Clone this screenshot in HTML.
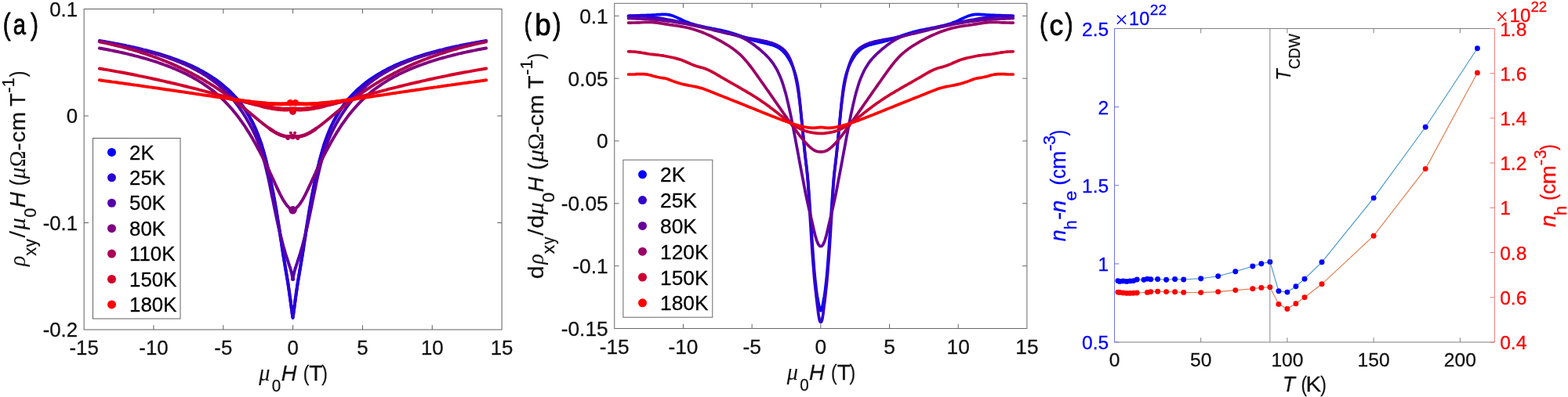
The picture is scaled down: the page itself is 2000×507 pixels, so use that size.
<!DOCTYPE html>
<html lang="en"><head><meta charset="utf-8"><title>Figure</title>
<style>
html,body{margin:0;padding:0;background:#fff;overflow:hidden}
svg{display:block}
text{font-family:"Liberation Sans",sans-serif;stroke-width:0.28px}
.m{font-family:"Liberation Serif",serif;font-style:italic;stroke-width:0.1px}
.r{font-family:"Liberation Serif",serif;stroke-width:0.1px}
.i{font-style:italic}
</style></head><body>
<svg width="2000" height="507" viewBox="0 0 2000 507">
<rect width="2000" height="507" fill="#fff"/>
<g fill="none" stroke-linecap="round" stroke-linejoin="round" stroke-width="3.95">
<path d="M126.9,52L129.7,52.4L132.5,52.9L135.2,53.4L138,53.9L140.7,54.4L143.4,54.9L146.1,55.4L148.8,55.9L151.5,56.4L154.1,57L156.8,57.5L159.4,58L162,58.6L164.6,59.1L167.2,59.7L169.8,60.3L172.3,60.8L174.9,61.4L177.4,62L179.9,62.6L182.4,63.3L184.9,63.9L187.4,64.5L189.8,65.1L192.3,65.8L194.7,66.5L197.1,67.1L199.5,67.8L201.9,68.5L204.2,69.2L206.6,69.9L208.9,70.7L211.3,71.4L213.6,72.1L215.9,72.9L218.2,73.7L220.4,74.5L222.7,75.3L224.9,76.1L227.1,76.9L229.3,77.8L231.5,78.6L233.7,79.5L235.9,80.4L238,81.3L240.1,82.2L242.3,83.1L244.4,84.1L246.4,85.1L248.5,86.1L250.6,87.1L252.6,88.1L254.6,89.2L256.7,90.2L258.6,91.3L260.6,92.4L262.6,93.6L264.5,94.7L266.5,95.9L268.4,97.1L270.3,98.3L272.2,99.6L274.1,100.9L275.9,102.2L277.8,103.5L279.6,104.9L281.4,106.3L283.2,107.7L285,109.2L286.7,110.7L288.5,112.2L290.2,113.7L291.9,115.3L293.6,116.9L295.3,118.6L297,120.3L298.6,122L300.3,123.8L301.9,125.6L303.5,127.5L305.1,129.4L306.6,131.4L308.2,133.4L309.7,135.5L311.3,137.7L312.8,139.9L314.3,142.2L315.7,144.5L317.2,147L318.6,149.5L320,152.1L321.5,154.8L322.8,157.6L324.2,160.5L325.6,163.6L326.9,166.7L328.2,170L329.5,173.4L330.8,176.9L332.1,180.6L333.4,184.4L334.6,188.3L335.8,192.5L337,196.7L338.2,201.2L339.4,205.8L340.5,210.5L341.7,215.3L342.8,220.2L343.9,225.2L344.9,230.3L346,235.5L347,240.7L348.1,246L349.1,251.4L350.1,256.8L351,262.2L352,267.7L352.9,273.2L353.8,278.7L354.7,284.2L355.6,289.7L356.5,295.1L357.3,300.5L358.1,305.8L359,311L359.7,316.1L360.5,321.1L361.2,325.8L362,330.4L362.7,334.7L363.4,338.8L364,342.8L364.7,346.6L365.3,350.3L365.9,353.8L366.5,357.3L367.1,360.8L367.6,364.2L368.1,367.6L368.6,371L369.1,374.3L369.5,377.5L370,380.6L370.4,383.6L370.8,386.4L371.1,389.1L371.5,391.6L371.8,394L372.1,396.1L372.4,398.1L372.6,399.8L372.8,401.4L373,402.7L373.2,403.8L373.3,404.7L373.4,405.4L373.5,405.8L373.5,406L373.5,405.8L373.6,405.4L373.7,404.7L373.8,403.8L374,402.7L374.2,401.4L374.4,399.8L374.6,398.1L374.9,396.1L375.2,394L375.5,391.6L375.9,389.1L376.2,386.4L376.6,383.6L377,380.6L377.5,377.5L377.9,374.3L378.4,371L378.9,367.6L379.4,364.2L379.9,360.8L380.5,357.3L381.1,353.8L381.7,350.3L382.3,346.6L383,342.8L383.6,338.8L384.3,334.7L385,330.4L385.8,325.8L386.5,321.1L387.3,316.1L388,311L388.9,305.8L389.7,300.5L390.5,295.1L391.4,289.7L392.3,284.2L393.2,278.7L394.1,273.2L395,267.7L396,262.2L396.9,256.8L397.9,251.4L398.9,246L400,240.7L401,235.5L402.1,230.3L403.1,225.2L404.2,220.2L405.3,215.3L406.5,210.5L407.6,205.8L408.8,201.2L410,196.7L411.2,192.5L412.4,188.3L413.6,184.4L414.9,180.6L416.2,176.9L417.5,173.4L418.8,170L420.1,166.7L421.4,163.6L422.8,160.5L424.2,157.6L425.5,154.8L427,152.1L428.4,149.5L429.8,147L431.3,144.5L432.7,142.2L434.2,139.9L435.7,137.7L437.3,135.5L438.8,133.4L440.4,131.4L441.9,129.4L443.5,127.5L445.1,125.6L446.7,123.8L448.4,122L450,120.3L451.7,118.6L453.4,116.9L455.1,115.3L456.8,113.7L458.5,112.2L460.3,110.7L462,109.2L463.8,107.7L465.6,106.3L467.4,104.9L469.2,103.5L471.1,102.2L472.9,100.9L474.8,99.6L476.7,98.3L478.6,97.1L480.5,95.9L482.5,94.7L484.4,93.6L486.4,92.4L488.4,91.3L490.3,90.2L492.4,89.2L494.4,88.1L496.4,87.1L498.5,86.1L500.6,85.1L502.6,84.1L504.7,83.1L506.9,82.2L509,81.3L511.1,80.4L513.3,79.5L515.5,78.6L517.7,77.8L519.9,76.9L522.1,76.1L524.3,75.3L526.6,74.5L528.8,73.7L531.1,72.9L533.4,72.1L535.7,71.4L538.1,70.7L540.4,69.9L542.8,69.2L545.1,68.5L547.5,67.8L549.9,67.1L552.3,66.5L554.7,65.8L557.2,65.1L559.6,64.5L562.1,63.9L564.6,63.3L567.1,62.6L569.6,62L572.1,61.4L574.7,60.8L577.2,60.3L579.8,59.7L582.4,59.1L585,58.6L587.6,58L590.2,57.5L592.9,57L595.5,56.4L598.2,55.9L600.9,55.4L603.6,54.9L606.3,54.4L609,53.9L611.8,53.4L614.5,52.9L617.3,52.4L620.1,52" stroke="#0000ff"/>
<path d="M126.9,52.6L129.7,53.1L132.5,53.5L135.2,54L138,54.5L140.7,55L143.4,55.5L146.1,56L148.8,56.5L151.5,57L154.1,57.6L156.8,58.1L159.4,58.7L162,59.2L164.6,59.8L167.2,60.3L169.8,60.9L172.3,61.5L174.9,62.1L177.4,62.7L179.9,63.3L182.4,63.9L184.9,64.5L187.4,65.2L189.8,65.8L192.3,66.5L194.7,67.1L197.1,67.8L199.5,68.5L201.9,69.2L204.2,69.9L206.6,70.6L208.9,71.4L211.3,72.1L213.6,72.9L215.9,73.6L218.2,74.4L220.4,75.2L222.7,76L224.9,76.9L227.1,77.7L229.3,78.5L231.5,79.4L233.7,80.3L235.9,81.2L238,82.1L240.1,83L242.3,84L244.4,84.9L246.4,85.9L248.5,86.9L250.6,87.9L252.6,89L254.6,90L256.7,91.1L258.6,92.2L260.6,93.3L262.6,94.5L264.5,95.6L266.5,96.8L268.4,98L270.3,99.3L272.2,100.5L274.1,101.8L275.9,103.1L277.8,104.5L279.6,105.8L281.4,107.2L283.2,108.6L285,110.1L286.7,111.6L288.5,113.1L290.2,114.7L291.9,116.3L293.6,117.9L295.3,119.5L297,121.2L298.6,123L300.3,124.7L301.9,126.6L303.5,128.4L305.1,130.3L306.6,132.3L308.2,134.3L309.7,136.4L311.3,138.5L312.8,140.7L314.3,142.9L315.7,145.2L317.2,147.6L318.6,150.1L320,152.7L321.5,155.3L322.8,158L324.2,160.9L325.6,163.8L326.9,166.8L328.2,170L329.5,173.3L330.8,176.7L332.1,180.2L333.4,183.9L334.6,187.8L335.8,191.8L337,195.9L338.2,200.3L339.4,204.7L340.5,209.4L341.7,214.1L342.8,218.9L343.9,223.8L344.9,228.8L346,233.8L347,239L348.1,244.1L349.1,249.4L350.1,254.7L351,260L352,265.4L352.9,270.9L353.8,276.4L354.7,281.9L355.6,287.4L356.5,292.9L357.3,298.3L358.1,303.7L359,308.9L359.7,314.1L360.5,319.1L361.2,324L362,328.6L362.7,333.1L363.4,337.3L364,341.3L364.7,345.1L365.3,348.8L365.9,352.4L366.5,356L367.1,359.5L367.6,363L368.1,366.5L368.6,369.9L369.1,373.3L369.5,376.6L370,379.8L370.4,382.9L370.8,385.9L371.1,388.7L371.5,391.3L371.8,393.7L372.1,395.9L372.4,397.8L372.6,399.6L372.8,401.1L373,402.4L373.2,403.5L373.3,404.4L373.4,405L373.5,405.4L373.5,405.6L373.5,405.4L373.6,405L373.7,404.4L373.8,403.5L374,402.4L374.2,401.1L374.4,399.6L374.6,397.8L374.9,395.9L375.2,393.7L375.5,391.3L375.9,388.7L376.2,385.9L376.6,382.9L377,379.8L377.5,376.6L377.9,373.3L378.4,369.9L378.9,366.5L379.4,363L379.9,359.5L380.5,356L381.1,352.4L381.7,348.8L382.3,345.1L383,341.3L383.6,337.3L384.3,333.1L385,328.6L385.8,324L386.5,319.1L387.3,314.1L388,308.9L388.9,303.7L389.7,298.3L390.5,292.9L391.4,287.4L392.3,281.9L393.2,276.4L394.1,270.9L395,265.4L396,260L396.9,254.7L397.9,249.4L398.9,244.1L400,239L401,233.8L402.1,228.8L403.1,223.8L404.2,218.9L405.3,214.1L406.5,209.4L407.6,204.7L408.8,200.3L410,195.9L411.2,191.8L412.4,187.8L413.6,183.9L414.9,180.2L416.2,176.7L417.5,173.3L418.8,170L420.1,166.8L421.4,163.8L422.8,160.9L424.2,158L425.5,155.3L427,152.7L428.4,150.1L429.8,147.6L431.3,145.2L432.7,142.9L434.2,140.7L435.7,138.5L437.3,136.4L438.8,134.3L440.4,132.3L441.9,130.3L443.5,128.4L445.1,126.6L446.7,124.7L448.4,123L450,121.2L451.7,119.5L453.4,117.9L455.1,116.3L456.8,114.7L458.5,113.1L460.3,111.6L462,110.1L463.8,108.6L465.6,107.2L467.4,105.8L469.2,104.5L471.1,103.1L472.9,101.8L474.8,100.5L476.7,99.3L478.6,98L480.5,96.8L482.5,95.6L484.4,94.5L486.4,93.3L488.4,92.2L490.3,91.1L492.4,90L494.4,89L496.4,87.9L498.5,86.9L500.6,85.9L502.6,84.9L504.7,84L506.9,83L509,82.1L511.1,81.2L513.3,80.3L515.5,79.4L517.7,78.5L519.9,77.7L522.1,76.9L524.3,76L526.6,75.2L528.8,74.4L531.1,73.6L533.4,72.9L535.7,72.1L538.1,71.4L540.4,70.6L542.8,69.9L545.1,69.2L547.5,68.5L549.9,67.8L552.3,67.1L554.7,66.5L557.2,65.8L559.6,65.2L562.1,64.5L564.6,63.9L567.1,63.3L569.6,62.7L572.1,62.1L574.7,61.5L577.2,60.9L579.8,60.3L582.4,59.8L585,59.2L587.6,58.7L590.2,58.1L592.9,57.6L595.5,57L598.2,56.5L600.9,56L603.6,55.5L606.3,55L609,54.5L611.8,54L614.5,53.5L617.3,53.1L620.1,52.6" stroke="#2a00d4"/>
<path d="M126.9,52.8L129.7,53.2L132.5,53.7L135.2,54.2L138,54.7L140.7,55.2L143.4,55.7L146.1,56.2L148.8,56.7L151.5,57.3L154.1,57.8L156.8,58.3L159.4,58.9L162,59.4L164.6,60L167.2,60.6L169.8,61.2L172.3,61.8L174.9,62.4L177.4,63L179.9,63.6L182.4,64.2L184.9,64.9L187.4,65.5L189.8,66.2L192.3,66.9L194.7,67.6L197.1,68.3L199.5,69L201.9,69.7L204.2,70.4L206.6,71.2L208.9,71.9L211.3,72.7L213.6,73.5L215.9,74.3L218.2,75.1L220.4,76L222.7,76.8L224.9,77.7L227.1,78.6L229.3,79.5L231.5,80.4L233.7,81.3L235.9,82.3L238,83.3L240.1,84.3L242.3,85.3L244.4,86.3L246.4,87.4L248.5,88.4L250.6,89.5L252.6,90.7L254.6,91.8L256.7,93L258.6,94.2L260.6,95.4L262.6,96.7L264.5,97.9L266.5,99.3L268.4,100.6L270.3,102L272.2,103.4L274.1,104.8L275.9,106.3L277.8,107.8L279.6,109.3L281.4,110.9L283.2,112.5L285,114.1L286.7,115.8L288.5,117.5L290.2,119.3L291.9,121.1L293.6,123L295.3,124.9L297,126.8L298.6,128.8L300.3,130.9L301.9,133L303.5,135.1L305.1,137.3L306.6,139.6L308.2,141.9L309.7,144.2L311.3,146.6L312.8,149L314.3,151.5L315.7,153.9L317.2,156.5L318.6,159L320,161.7L321.5,164.3L322.8,167.1L324.2,169.9L325.6,172.9L326.9,175.9L328.2,179.1L329.5,182.4L330.8,185.9L332.1,189.5L333.4,193.3L334.6,197.3L335.8,201.5L337,206L338.2,210.5L339.4,215.2L340.5,220.1L341.7,225.1L342.8,230.1L343.9,235.2L344.9,240.4L346,245.5L347,250.6L348.1,255.7L349.1,260.6L350.1,265.5L351,270.1L352,274.7L352.9,279L353.8,283.2L354.7,287.3L355.6,291.2L356.5,294.9L357.3,298.4L358.1,301.8L359,305.1L359.7,308.1L360.5,311.1L361.2,313.8L362,316.5L362.7,318.9L363.4,321.3L364,323.5L364.7,325.6L365.3,327.6L365.9,329.5L366.5,331.2L367.1,332.9L367.6,334.5L368.1,336.1L368.6,337.5L369.1,339L369.5,340.3L370,341.7L370.4,343L370.8,344.3L371.1,345.6L371.5,346.8L371.8,348.1L372.1,349.3L372.4,350.5L372.6,351.6L372.8,352.7L373,353.7L373.2,354.6L373.3,355.3L373.4,355.9L373.5,356.3L373.5,356.5L373.5,356.3L373.6,355.9L373.7,355.3L373.8,354.6L374,353.7L374.2,352.7L374.4,351.6L374.6,350.5L374.9,349.3L375.2,348.1L375.5,346.8L375.9,345.6L376.2,344.3L376.6,343L377,341.7L377.5,340.3L377.9,339L378.4,337.5L378.9,336.1L379.4,334.5L379.9,332.9L380.5,331.2L381.1,329.5L381.7,327.6L382.3,325.6L383,323.5L383.6,321.3L384.3,318.9L385,316.5L385.8,313.8L386.5,311.1L387.3,308.1L388,305.1L388.9,301.8L389.7,298.4L390.5,294.9L391.4,291.2L392.3,287.3L393.2,283.2L394.1,279L395,274.7L396,270.1L396.9,265.5L397.9,260.6L398.9,255.7L400,250.6L401,245.5L402.1,240.4L403.1,235.2L404.2,230.1L405.3,225.1L406.5,220.1L407.6,215.2L408.8,210.5L410,206L411.2,201.5L412.4,197.3L413.6,193.3L414.9,189.5L416.2,185.9L417.5,182.4L418.8,179.1L420.1,175.9L421.4,172.9L422.8,169.9L424.2,167.1L425.5,164.3L427,161.7L428.4,159L429.8,156.5L431.3,153.9L432.7,151.5L434.2,149L435.7,146.6L437.3,144.2L438.8,141.9L440.4,139.6L441.9,137.3L443.5,135.1L445.1,133L446.7,130.9L448.4,128.8L450,126.8L451.7,124.9L453.4,123L455.1,121.1L456.8,119.3L458.5,117.5L460.3,115.8L462,114.1L463.8,112.5L465.6,110.9L467.4,109.3L469.2,107.8L471.1,106.3L472.9,104.8L474.8,103.4L476.7,102L478.6,100.6L480.5,99.3L482.5,97.9L484.4,96.7L486.4,95.4L488.4,94.2L490.3,93L492.4,91.8L494.4,90.7L496.4,89.5L498.5,88.4L500.6,87.4L502.6,86.3L504.7,85.3L506.9,84.3L509,83.3L511.1,82.3L513.3,81.3L515.5,80.4L517.7,79.5L519.9,78.6L522.1,77.7L524.3,76.8L526.6,76L528.8,75.1L531.1,74.3L533.4,73.5L535.7,72.7L538.1,71.9L540.4,71.2L542.8,70.4L545.1,69.7L547.5,69L549.9,68.3L552.3,67.6L554.7,66.9L557.2,66.2L559.6,65.5L562.1,64.9L564.6,64.2L567.1,63.6L569.6,63L572.1,62.4L574.7,61.8L577.2,61.2L579.8,60.6L582.4,60L585,59.4L587.6,58.9L590.2,58.3L592.9,57.8L595.5,57.3L598.2,56.7L600.9,56.2L603.6,55.7L606.3,55.2L609,54.7L611.8,54.2L614.5,53.7L617.3,53.2L620.1,52.8" stroke="#5500aa"/>
<circle cx="373.5" cy="356.3" r="2.6" fill="#5500aa" stroke="none"/>
<path d="M126.9,61.5L129.7,62L132.5,62.5L135.2,63L138,63.5L140.7,64.1L143.4,64.6L146.1,65.2L148.8,65.8L151.5,66.3L154.1,66.9L156.8,67.5L159.4,68.1L162,68.7L164.6,69.4L167.2,70L169.8,70.6L172.3,71.3L174.9,71.9L177.4,72.6L179.9,73.3L182.4,74L184.9,74.7L187.4,75.4L189.8,76.2L192.3,76.9L194.7,77.7L197.1,78.4L199.5,79.2L201.9,80L204.2,80.8L206.6,81.6L208.9,82.5L211.3,83.3L213.6,84.2L215.9,85.1L218.2,86L220.4,86.9L222.7,87.8L224.9,88.8L227.1,89.7L229.3,90.7L231.5,91.7L233.7,92.7L235.9,93.8L238,94.8L240.1,95.9L242.3,97L244.4,98.1L246.4,99.3L248.5,100.5L250.6,101.6L252.6,102.9L254.6,104.1L256.7,105.4L258.6,106.6L260.6,108L262.6,109.3L264.5,110.7L266.5,112.1L268.4,113.5L270.3,114.9L272.2,116.4L274.1,117.9L275.9,119.5L277.8,121.1L279.6,122.7L281.4,124.3L283.2,126L285,127.7L286.7,129.5L288.5,131.3L290.2,133.1L291.9,135L293.6,136.9L295.3,138.8L297,140.7L298.6,142.7L300.3,144.8L301.9,146.8L303.5,148.9L305.1,151L306.6,153.2L308.2,155.3L309.7,157.5L311.3,159.7L312.8,162L314.3,164.3L315.7,166.6L317.2,168.9L318.6,171.2L320,173.6L321.5,176L322.8,178.4L324.2,180.8L325.6,183.2L326.9,185.6L328.2,188L329.5,190.5L330.8,192.9L332.1,195.3L333.4,197.7L334.6,200.2L335.8,202.6L337,205L338.2,207.4L339.4,209.8L340.5,212.2L341.7,214.6L342.8,216.9L343.9,219.2L344.9,221.6L346,223.8L347,226.1L348.1,228.3L349.1,230.5L350.1,232.7L351,234.8L352,236.9L352.9,238.9L353.8,240.8L354.7,242.7L355.6,244.6L356.5,246.4L357.3,248.1L358.1,249.7L359,251.2L359.7,252.7L360.5,254.1L361.2,255.3L362,256.5L362.7,257.7L363.4,258.7L364,259.7L364.7,260.6L365.3,261.4L365.9,262.2L366.5,262.9L367.1,263.5L367.6,264.1L368.1,264.6L368.6,265.1L369.1,265.6L369.5,266L370,266.5L370.4,266.8L370.8,267.2L371.1,267.6L371.5,267.9L371.8,268.2L372.1,268.6L372.4,268.9L372.6,269.2L372.8,269.5L373,269.7L373.2,270L373.3,270.2L373.4,270.3L373.5,270.5L373.6,270.3L373.7,270.2L373.8,270L374,269.7L374.2,269.5L374.4,269.2L374.6,268.9L374.9,268.6L375.2,268.2L375.5,267.9L375.9,267.6L376.2,267.2L376.6,266.8L377,266.5L377.5,266L377.9,265.6L378.4,265.1L378.9,264.6L379.4,264.1L379.9,263.5L380.5,262.9L381.1,262.2L381.7,261.4L382.3,260.6L383,259.7L383.6,258.7L384.3,257.7L385,256.5L385.8,255.3L386.5,254.1L387.3,252.7L388,251.2L388.9,249.7L389.7,248.1L390.5,246.4L391.4,244.6L392.3,242.7L393.2,240.8L394.1,238.9L395,236.9L396,234.8L396.9,232.7L397.9,230.5L398.9,228.3L400,226.1L401,223.8L402.1,221.6L403.1,219.2L404.2,216.9L405.3,214.6L406.5,212.2L407.6,209.8L408.8,207.4L410,205L411.2,202.6L412.4,200.2L413.6,197.7L414.9,195.3L416.2,192.9L417.5,190.5L418.8,188L420.1,185.6L421.4,183.2L422.8,180.8L424.2,178.4L425.5,176L427,173.6L428.4,171.2L429.8,168.9L431.3,166.6L432.7,164.3L434.2,162L435.7,159.7L437.3,157.5L438.8,155.3L440.4,153.2L441.9,151L443.5,148.9L445.1,146.8L446.7,144.8L448.4,142.7L450,140.7L451.7,138.8L453.4,136.9L455.1,135L456.8,133.1L458.5,131.3L460.3,129.5L462,127.7L463.8,126L465.6,124.3L467.4,122.7L469.2,121.1L471.1,119.5L472.9,117.9L474.8,116.4L476.7,114.9L478.6,113.5L480.5,112.1L482.5,110.7L484.4,109.3L486.4,108L488.4,106.6L490.3,105.4L492.4,104.1L494.4,102.9L496.4,101.6L498.5,100.5L500.6,99.3L502.6,98.1L504.7,97L506.9,95.9L509,94.8L511.1,93.8L513.3,92.7L515.5,91.7L517.7,90.7L519.9,89.7L522.1,88.8L524.3,87.8L526.6,86.9L528.8,86L531.1,85.1L533.4,84.2L535.7,83.3L538.1,82.5L540.4,81.6L542.8,80.8L545.1,80L547.5,79.2L549.9,78.4L552.3,77.7L554.7,76.9L557.2,76.2L559.6,75.4L562.1,74.7L564.6,74L567.1,73.3L569.6,72.6L572.1,71.9L574.7,71.3L577.2,70.6L579.8,70L582.4,69.4L585,68.7L587.6,68.1L590.2,67.5L592.9,66.9L595.5,66.3L598.2,65.8L600.9,65.2L603.6,64.6L606.3,64.1L609,63.5L611.8,63L614.5,62.5L617.3,62L620.1,61.5" stroke="#800080"/>
<circle cx="373.5" cy="268.3" r="5.2" fill="#800080" stroke="none"/>
<path d="M126.9,53.4L129.7,54L132.5,54.5L135.2,55.1L138,55.8L140.7,56.4L143.4,57L146.1,57.7L148.8,58.3L151.5,59L154.1,59.6L156.8,60.3L159.4,61L162,61.7L164.6,62.5L167.2,63.2L169.8,63.9L172.3,64.7L174.9,65.4L177.4,66.2L179.9,67L182.4,67.8L184.9,68.6L187.4,69.4L189.8,70.3L192.3,71.1L194.7,72L197.1,72.8L199.5,73.7L201.9,74.6L204.2,75.5L206.6,76.4L208.9,77.3L211.3,78.3L213.6,79.2L215.9,80.2L218.2,81.1L220.4,82.1L222.7,83.1L224.9,84.1L227.1,85.1L229.3,86.1L231.5,87.2L233.7,88.2L235.9,89.2L238,90.3L240.1,91.4L242.3,92.5L244.4,93.6L246.4,94.7L248.5,95.8L250.6,96.9L252.6,98L254.6,99.2L256.7,100.3L258.6,101.4L260.6,102.6L262.6,103.8L264.5,105L266.5,106.1L268.4,107.3L270.3,108.5L272.2,109.7L274.1,110.9L275.9,112.2L277.8,113.4L279.6,114.6L281.4,115.8L283.2,117L285,118.3L286.7,119.5L288.5,120.7L290.2,122L291.9,123.2L293.6,124.5L295.3,125.7L297,127L298.6,128.2L300.3,129.4L301.9,130.7L303.5,131.9L305.1,133.2L306.6,134.4L308.2,135.6L309.7,136.9L311.3,138.1L312.8,139.3L314.3,140.5L315.7,141.7L317.2,142.9L318.6,144.1L320,145.3L321.5,146.5L322.8,147.6L324.2,148.8L325.6,149.9L326.9,151L328.2,152.1L329.5,153.2L330.8,154.3L332.1,155.3L333.4,156.3L334.6,157.3L335.8,158.3L337,159.2L338.2,160.1L339.4,161L340.5,161.9L341.7,162.7L342.8,163.5L343.9,164.3L344.9,165.1L346,165.8L347,166.5L348.1,167.1L349.1,167.8L350.1,168.4L351,168.9L352,169.5L352.9,170L353.8,170.5L354.7,170.9L355.6,171.3L356.5,171.7L357.3,172.1L358.1,172.4L359,172.7L359.7,173L360.5,173.2L361.2,173.4L362,173.6L362.7,173.8L363.4,173.9L364,174L364.7,174.1L365.3,174.2L365.9,174.3L366.5,174.3L367.1,174.3L367.6,174.3L368.1,174.3L368.6,174.3L369.1,174.3L369.5,174.3L370,174.3L370.4,174.3L370.8,174.3L371.1,174.3L371.5,174.3L371.8,174.3L372.1,174.3L372.4,174.3L372.6,174.3L372.8,174.3L373,174.4L373.2,174.4L373.3,174.4L373.4,174.5L373.5,174.5L373.6,174.5L373.7,174.4L373.8,174.4L374,174.4L374.2,174.3L374.4,174.3L374.6,174.3L374.9,174.3L375.2,174.3L375.5,174.3L375.9,174.3L376.2,174.3L376.6,174.3L377,174.3L377.5,174.3L377.9,174.3L378.4,174.3L378.9,174.3L379.4,174.3L379.9,174.3L380.5,174.3L381.1,174.3L381.7,174.2L382.3,174.1L383,174L383.6,173.9L384.3,173.8L385,173.6L385.8,173.4L386.5,173.2L387.3,173L388,172.7L388.9,172.4L389.7,172.1L390.5,171.7L391.4,171.3L392.3,170.9L393.2,170.5L394.1,170L395,169.5L396,168.9L396.9,168.4L397.9,167.8L398.9,167.1L400,166.5L401,165.8L402.1,165.1L403.1,164.3L404.2,163.5L405.3,162.7L406.5,161.9L407.6,161L408.8,160.1L410,159.2L411.2,158.3L412.4,157.3L413.6,156.3L414.9,155.3L416.2,154.3L417.5,153.2L418.8,152.1L420.1,151L421.4,149.9L422.8,148.8L424.2,147.6L425.5,146.5L427,145.3L428.4,144.1L429.8,142.9L431.3,141.7L432.7,140.5L434.2,139.3L435.7,138.1L437.3,136.9L438.8,135.6L440.4,134.4L441.9,133.2L443.5,131.9L445.1,130.7L446.7,129.4L448.4,128.2L450,127L451.7,125.7L453.4,124.5L455.1,123.2L456.8,122L458.5,120.7L460.3,119.5L462,118.3L463.8,117L465.6,115.8L467.4,114.6L469.2,113.4L471.1,112.2L472.9,110.9L474.8,109.7L476.7,108.5L478.6,107.3L480.5,106.1L482.5,105L484.4,103.8L486.4,102.6L488.4,101.4L490.3,100.3L492.4,99.2L494.4,98L496.4,96.9L498.5,95.8L500.6,94.7L502.6,93.6L504.7,92.5L506.9,91.4L509,90.3L511.1,89.2L513.3,88.2L515.5,87.2L517.7,86.1L519.9,85.1L522.1,84.1L524.3,83.1L526.6,82.1L528.8,81.1L531.1,80.2L533.4,79.2L535.7,78.3L538.1,77.3L540.4,76.4L542.8,75.5L545.1,74.6L547.5,73.7L549.9,72.8L552.3,72L554.7,71.1L557.2,70.3L559.6,69.4L562.1,68.6L564.6,67.8L567.1,67L569.6,66.2L572.1,65.4L574.7,64.7L577.2,63.9L579.8,63.2L582.4,62.5L585,61.7L587.6,61L590.2,60.3L592.9,59.6L595.5,59L598.2,58.3L600.9,57.7L603.6,57L606.3,56.4L609,55.8L611.8,55.1L614.5,54.5L617.3,54L620.1,53.4" stroke="#aa0055"/>
<path d="M343.9,164.3L344.9,165.1L346,165.8L347,166.5L348.1,167.1L349.1,167.8L350.1,168.4L351,168.9L352,169.5L352.9,170L353.8,170.5L354.7,170.9L355.6,171.3L356.5,171.7L357.3,172.1L358.1,172.4L359,172.7L359.7,173L360.5,173.2L361.2,173.4L362,173.6L362.7,173.8L363.4,173.9L364,174L364.7,174.1L365.3,174.2L365.9,174.3L366.5,174.3L367.1,174.3L367.6,174.3L368.1,174.3L368.6,174.3L369.1,174.3L369.5,174.3L370,174.3L370.4,174.3L370.8,174.3L371.1,174.3L371.5,174.3L371.8,174.3L372.1,174.3L372.4,174.3L372.6,174.3L372.8,174.3L373,174.4L373.2,174.4L373.3,174.4L373.4,174.5L373.5,174.5L373.6,174.5L373.7,174.4L373.8,174.4L374,174.4L374.2,174.3L374.4,174.3L374.6,174.3L374.9,174.3L375.2,174.3L375.5,174.3L375.9,174.3L376.2,174.3L376.6,174.3L377,174.3L377.5,174.3L377.9,174.3L378.4,174.3L378.9,174.3L379.4,174.3L379.9,174.3L380.5,174.3L381.1,174.3L381.7,174.2L382.3,174.1L383,174L383.6,173.9L384.3,173.8L385,173.6L385.8,173.4L386.5,173.2L387.3,173L388,172.7L388.9,172.4L389.7,172.1L390.5,171.7L391.4,171.3L392.3,170.9L393.2,170.5L394.1,170L395,169.5L396,168.9L396.9,168.4L397.9,167.8L398.9,167.1L400,166.5L401,165.8L402.1,165.1L403.1,164.3" stroke="#aa0055" stroke-width="4.6"/>
<circle cx="370.9" cy="169.8" r="2.1" fill="#aa0055" stroke="none"/>
<circle cx="376.1" cy="169.8" r="2.1" fill="#aa0055" stroke="none"/>
<circle cx="367.2" cy="176.3" r="2.6" fill="#aa0055" stroke="none"/>
<circle cx="379.8" cy="176.3" r="2.6" fill="#aa0055" stroke="none"/>
<circle cx="373.5" cy="174.5" r="3.6" fill="#aa0055" stroke="none"/>
<path d="M126.9,87.5L129.7,88L132.5,88.5L135.2,88.9L138,89.4L140.7,89.9L143.4,90.4L146.1,90.9L148.8,91.4L151.5,91.8L154.1,92.3L156.8,92.8L159.4,93.3L162,93.8L164.6,94.3L167.2,94.8L169.8,95.3L172.3,95.8L174.9,96.3L177.4,96.9L179.9,97.4L182.4,97.9L184.9,98.4L187.4,98.9L189.8,99.4L192.3,99.9L194.7,100.5L197.1,101L199.5,101.5L201.9,102L204.2,102.6L206.6,103.1L208.9,103.6L211.3,104.2L213.6,104.7L215.9,105.2L218.2,105.7L220.4,106.3L222.7,106.8L224.9,107.3L227.1,107.9L229.3,108.4L231.5,108.9L233.7,109.5L235.9,110L238,110.5L240.1,111.1L242.3,111.6L244.4,112.1L246.4,112.7L248.5,113.2L250.6,113.7L252.6,114.2L254.6,114.8L256.7,115.3L258.6,115.8L260.6,116.3L262.6,116.8L264.5,117.3L266.5,117.9L268.4,118.4L270.3,118.9L272.2,119.4L274.1,119.9L275.9,120.3L277.8,120.8L279.6,121.3L281.4,121.8L283.2,122.3L285,122.7L286.7,123.2L288.5,123.7L290.2,124.1L291.9,124.6L293.6,125L295.3,125.5L297,125.9L298.6,126.4L300.3,126.8L301.9,127.2L303.5,127.6L305.1,128.1L306.6,128.5L308.2,128.9L309.7,129.3L311.3,129.7L312.8,130.1L314.3,130.4L315.7,130.8L317.2,131.2L318.6,131.6L320,131.9L321.5,132.3L322.8,132.6L324.2,133L325.6,133.3L326.9,133.6L328.2,133.9L329.5,134.2L330.8,134.5L332.1,134.8L333.4,135.1L334.6,135.4L335.8,135.7L337,135.9L338.2,136.2L339.4,136.4L340.5,136.7L341.7,136.9L342.8,137.1L343.9,137.3L344.9,137.5L346,137.7L347,137.9L348.1,138.1L349.1,138.2L350.1,138.4L351,138.5L352,138.7L352.9,138.8L353.8,138.9L354.7,139L355.6,139.1L356.5,139.2L357.3,139.3L358.1,139.4L359,139.4L359.7,139.5L360.5,139.5L361.2,139.6L362,139.6L362.7,139.6L363.4,139.6L364,139.6L364.7,139.6L365.3,139.6L365.9,139.6L366.5,139.6L367.1,139.6L367.6,139.5L368.1,139.5L368.6,139.5L369.1,139.4L369.5,139.4L370,139.4L370.4,139.3L370.8,139.3L371.1,139.3L371.5,139.3L371.8,139.2L372.1,139.2L372.4,139.2L372.6,139.2L372.8,139.2L373,139.2L373.2,139.2L373.3,139.2L373.4,139.2L373.5,139.2L373.6,139.2L373.7,139.2L373.8,139.2L374,139.2L374.2,139.2L374.4,139.2L374.6,139.2L374.9,139.2L375.2,139.2L375.5,139.3L375.9,139.3L376.2,139.3L376.6,139.3L377,139.4L377.5,139.4L377.9,139.4L378.4,139.5L378.9,139.5L379.4,139.5L379.9,139.6L380.5,139.6L381.1,139.6L381.7,139.6L382.3,139.6L383,139.6L383.6,139.6L384.3,139.6L385,139.6L385.8,139.6L386.5,139.5L387.3,139.5L388,139.4L388.9,139.4L389.7,139.3L390.5,139.2L391.4,139.1L392.3,139L393.2,138.9L394.1,138.8L395,138.7L396,138.5L396.9,138.4L397.9,138.2L398.9,138.1L400,137.9L401,137.7L402.1,137.5L403.1,137.3L404.2,137.1L405.3,136.9L406.5,136.7L407.6,136.4L408.8,136.2L410,135.9L411.2,135.7L412.4,135.4L413.6,135.1L414.9,134.8L416.2,134.5L417.5,134.2L418.8,133.9L420.1,133.6L421.4,133.3L422.8,133L424.2,132.6L425.5,132.3L427,131.9L428.4,131.6L429.8,131.2L431.3,130.8L432.7,130.4L434.2,130.1L435.7,129.7L437.3,129.3L438.8,128.9L440.4,128.5L441.9,128.1L443.5,127.6L445.1,127.2L446.7,126.8L448.4,126.4L450,125.9L451.7,125.5L453.4,125L455.1,124.6L456.8,124.1L458.5,123.7L460.3,123.2L462,122.7L463.8,122.3L465.6,121.8L467.4,121.3L469.2,120.8L471.1,120.3L472.9,119.9L474.8,119.4L476.7,118.9L478.6,118.4L480.5,117.9L482.5,117.3L484.4,116.8L486.4,116.3L488.4,115.8L490.3,115.3L492.4,114.8L494.4,114.2L496.4,113.7L498.5,113.2L500.6,112.7L502.6,112.1L504.7,111.6L506.9,111.1L509,110.5L511.1,110L513.3,109.5L515.5,108.9L517.7,108.4L519.9,107.9L522.1,107.3L524.3,106.8L526.6,106.3L528.8,105.7L531.1,105.2L533.4,104.7L535.7,104.2L538.1,103.6L540.4,103.1L542.8,102.6L545.1,102L547.5,101.5L549.9,101L552.3,100.5L554.7,99.9L557.2,99.4L559.6,98.9L562.1,98.4L564.6,97.9L567.1,97.4L569.6,96.9L572.1,96.3L574.7,95.8L577.2,95.3L579.8,94.8L582.4,94.3L585,93.8L587.6,93.3L590.2,92.8L592.9,92.3L595.5,91.8L598.2,91.4L600.9,90.9L603.6,90.4L606.3,89.9L609,89.4L611.8,88.9L614.5,88.5L617.3,88L620.1,87.5" stroke="#d4002a"/>
<path d="M305.1,128.1L306.6,128.5L308.2,128.9L309.7,129.3L311.3,129.7L312.8,130.1L314.3,130.4L315.7,130.8L317.2,131.2L318.6,131.6L320,131.9L321.5,132.3L322.8,132.6L324.2,133L325.6,133.3L326.9,133.6L328.2,133.9L329.5,134.2L330.8,134.5L332.1,134.8L333.4,135.1L334.6,135.4L335.8,135.7L337,135.9L338.2,136.2L339.4,136.4L340.5,136.7L341.7,136.9L342.8,137.1L343.9,137.3L344.9,137.5L346,137.7L347,137.9L348.1,138.1L349.1,138.2L350.1,138.4L351,138.5L352,138.7L352.9,138.8L353.8,138.9L354.7,139L355.6,139.1L356.5,139.2L357.3,139.3L358.1,139.4L359,139.4L359.7,139.5L360.5,139.5L361.2,139.6L362,139.6L362.7,139.6L363.4,139.6L364,139.6L364.7,139.6L365.3,139.6L365.9,139.6L366.5,139.6L367.1,139.6L367.6,139.5L368.1,139.5L368.6,139.5L369.1,139.4L369.5,139.4L370,139.4L370.4,139.3L370.8,139.3L371.1,139.3L371.5,139.3L371.8,139.2L372.1,139.2L372.4,139.2L372.6,139.2L372.8,139.2L373,139.2L373.2,139.2L373.3,139.2L373.4,139.2L373.5,139.2L373.6,139.2L373.7,139.2L373.8,139.2L374,139.2L374.2,139.2L374.4,139.2L374.6,139.2L374.9,139.2L375.2,139.2L375.5,139.3L375.9,139.3L376.2,139.3L376.6,139.3L377,139.4L377.5,139.4L377.9,139.4L378.4,139.5L378.9,139.5L379.4,139.5L379.9,139.6L380.5,139.6L381.1,139.6L381.7,139.6L382.3,139.6L383,139.6L383.6,139.6L384.3,139.6L385,139.6L385.8,139.6L386.5,139.5L387.3,139.5L388,139.4L388.9,139.4L389.7,139.3L390.5,139.2L391.4,139.1L392.3,139L393.2,138.9L394.1,138.8L395,138.7L396,138.5L396.9,138.4L397.9,138.2L398.9,138.1L400,137.9L401,137.7L402.1,137.5L403.1,137.3L404.2,137.1L405.3,136.9L406.5,136.7L407.6,136.4L408.8,136.2L410,135.9L411.2,135.7L412.4,135.4L413.6,135.1L414.9,134.8L416.2,134.5L417.5,134.2L418.8,133.9L420.1,133.6L421.4,133.3L422.8,133L424.2,132.6L425.5,132.3L427,131.9L428.4,131.6L429.8,131.2L431.3,130.8L432.7,130.4L434.2,130.1L435.7,129.7L437.3,129.3L438.8,128.9L440.4,128.5L441.9,128.1" stroke="#d4002a" stroke-width="4.8"/>
<path d="M334.6,135.4L335.8,135.7L337,135.9L338.2,136.2L339.4,136.4L340.5,136.7L341.7,136.9L342.8,137.1L343.9,137.3L344.9,137.5L346,137.7L347,137.9L348.1,138.1L349.1,138.2L350.1,138.4L351,138.5L352,138.7L352.9,138.8L353.8,138.9L354.7,139L355.6,139.1L356.5,139.2L357.3,139.3L358.1,139.4L359,139.4L359.7,139.5L360.5,139.5L361.2,139.6L362,139.6L362.7,139.6L363.4,139.6L364,139.6L364.7,139.6L365.3,139.6L365.9,139.6L366.5,139.6L367.1,139.6L367.6,139.5L368.1,139.5L368.6,139.5L369.1,139.4L369.5,139.4L370,139.4L370.4,139.3L370.8,139.3L371.1,139.3L371.5,139.3L371.8,139.2L372.1,139.2L372.4,139.2L372.6,139.2L372.8,139.2L373,139.2L373.2,139.2L373.3,139.2L373.4,139.2L373.5,139.2L373.6,139.2L373.7,139.2L373.8,139.2L374,139.2L374.2,139.2L374.4,139.2L374.6,139.2L374.9,139.2L375.2,139.2L375.5,139.3L375.9,139.3L376.2,139.3L376.6,139.3L377,139.4L377.5,139.4L377.9,139.4L378.4,139.5L378.9,139.5L379.4,139.5L379.9,139.6L380.5,139.6L381.1,139.6L381.7,139.6L382.3,139.6L383,139.6L383.6,139.6L384.3,139.6L385,139.6L385.8,139.6L386.5,139.5L387.3,139.5L388,139.4L388.9,139.4L389.7,139.3L390.5,139.2L391.4,139.1L392.3,139L393.2,138.9L394.1,138.8L395,138.7L396,138.5L396.9,138.4L397.9,138.2L398.9,138.1L400,137.9L401,137.7L402.1,137.5L403.1,137.3L404.2,137.1L405.3,136.9L406.5,136.7L407.6,136.4L408.8,136.2L410,135.9L411.2,135.7L412.4,135.4" stroke="#d4002a" stroke-width="5.6"/>
<circle cx="373.5" cy="142.4" r="4.4" fill="#d4002a" stroke="none"/>
<path d="M126.9,102.3L129.7,102.7L132.5,103.1L135.2,103.5L138,103.8L140.7,104.2L143.4,104.6L146.1,104.9L148.8,105.3L151.5,105.7L154.1,106L156.8,106.4L159.4,106.8L162,107.1L164.6,107.5L167.2,107.9L169.8,108.2L172.3,108.6L174.9,108.9L177.4,109.3L179.9,109.6L182.4,110L184.9,110.4L187.4,110.7L189.8,111.1L192.3,111.4L194.7,111.8L197.1,112.1L199.5,112.4L201.9,112.8L204.2,113.1L206.6,113.5L208.9,113.8L211.3,114.2L213.6,114.5L215.9,114.8L218.2,115.2L220.4,115.5L222.7,115.8L224.9,116.1L227.1,116.5L229.3,116.8L231.5,117.1L233.7,117.4L235.9,117.8L238,118.1L240.1,118.4L242.3,118.7L244.4,119L246.4,119.3L248.5,119.6L250.6,120L252.6,120.3L254.6,120.6L256.7,120.9L258.6,121.2L260.6,121.5L262.6,121.7L264.5,122L266.5,122.3L268.4,122.6L270.3,122.9L272.2,123.2L274.1,123.5L275.9,123.7L277.8,124L279.6,124.3L281.4,124.5L283.2,124.8L285,125.1L286.7,125.3L288.5,125.6L290.2,125.8L291.9,126.1L293.6,126.3L295.3,126.6L297,126.8L298.6,127L300.3,127.3L301.9,127.5L303.5,127.7L305.1,127.9L306.6,128.1L308.2,128.4L309.7,128.6L311.3,128.8L312.8,129L314.3,129.2L315.7,129.4L317.2,129.5L318.6,129.7L320,129.9L321.5,130.1L322.8,130.2L324.2,130.4L325.6,130.6L326.9,130.7L328.2,130.9L329.5,131L330.8,131.2L332.1,131.3L333.4,131.4L334.6,131.6L335.8,131.7L337,131.8L338.2,131.9L339.4,132L340.5,132.1L341.7,132.2L342.8,132.3L343.9,132.4L344.9,132.4L346,132.5L347,132.6L348.1,132.6L349.1,132.7L350.1,132.7L351,132.8L352,132.8L352.9,132.8L353.8,132.8L354.7,132.9L355.6,132.9L356.5,132.9L357.3,132.9L358.1,132.9L359,132.9L359.7,132.9L360.5,132.8L361.2,132.8L362,132.8L362.7,132.8L363.4,132.8L364,132.7L364.7,132.7L365.3,132.7L365.9,132.6L366.5,132.6L367.1,132.5L367.6,132.5L368.1,132.5L368.6,132.4L369.1,132.4L369.5,132.4L370,132.4L370.4,132.4L370.8,132.3L371.1,132.3L371.5,132.3L371.8,132.3L372.1,132.3L372.4,132.3L372.6,132.3L372.8,132.3L373,132.4L373.2,132.4L373.3,132.4L373.4,132.4L373.5,132.4L373.6,132.4L373.7,132.4L373.8,132.4L374,132.4L374.2,132.3L374.4,132.3L374.6,132.3L374.9,132.3L375.2,132.3L375.5,132.3L375.9,132.3L376.2,132.3L376.6,132.4L377,132.4L377.5,132.4L377.9,132.4L378.4,132.4L378.9,132.5L379.4,132.5L379.9,132.5L380.5,132.6L381.1,132.6L381.7,132.7L382.3,132.7L383,132.7L383.6,132.8L384.3,132.8L385,132.8L385.8,132.8L386.5,132.8L387.3,132.9L388,132.9L388.9,132.9L389.7,132.9L390.5,132.9L391.4,132.9L392.3,132.9L393.2,132.8L394.1,132.8L395,132.8L396,132.8L396.9,132.7L397.9,132.7L398.9,132.6L400,132.6L401,132.5L402.1,132.4L403.1,132.4L404.2,132.3L405.3,132.2L406.5,132.1L407.6,132L408.8,131.9L410,131.8L411.2,131.7L412.4,131.6L413.6,131.4L414.9,131.3L416.2,131.2L417.5,131L418.8,130.9L420.1,130.7L421.4,130.6L422.8,130.4L424.2,130.2L425.5,130.1L427,129.9L428.4,129.7L429.8,129.5L431.3,129.4L432.7,129.2L434.2,129L435.7,128.8L437.3,128.6L438.8,128.4L440.4,128.1L441.9,127.9L443.5,127.7L445.1,127.5L446.7,127.3L448.4,127L450,126.8L451.7,126.6L453.4,126.3L455.1,126.1L456.8,125.8L458.5,125.6L460.3,125.3L462,125.1L463.8,124.8L465.6,124.5L467.4,124.3L469.2,124L471.1,123.7L472.9,123.5L474.8,123.2L476.7,122.9L478.6,122.6L480.5,122.3L482.5,122L484.4,121.7L486.4,121.5L488.4,121.2L490.3,120.9L492.4,120.6L494.4,120.3L496.4,120L498.5,119.6L500.6,119.3L502.6,119L504.7,118.7L506.9,118.4L509,118.1L511.1,117.8L513.3,117.4L515.5,117.1L517.7,116.8L519.9,116.5L522.1,116.1L524.3,115.8L526.6,115.5L528.8,115.2L531.1,114.8L533.4,114.5L535.7,114.2L538.1,113.8L540.4,113.5L542.8,113.1L545.1,112.8L547.5,112.4L549.9,112.1L552.3,111.8L554.7,111.4L557.2,111.1L559.6,110.7L562.1,110.4L564.6,110L567.1,109.6L569.6,109.3L572.1,108.9L574.7,108.6L577.2,108.2L579.8,107.9L582.4,107.5L585,107.1L587.6,106.8L590.2,106.4L592.9,106L595.5,105.7L598.2,105.3L600.9,104.9L603.6,104.6L606.3,104.2L609,103.8L611.8,103.5L614.5,103.1L617.3,102.7L620.1,102.3" stroke="#ff0000"/>
<path d="M293.6,126.3L295.3,126.6L297,126.8L298.6,127L300.3,127.3L301.9,127.5L303.5,127.7L305.1,127.9L306.6,128.1L308.2,128.4L309.7,128.6L311.3,128.8L312.8,129L314.3,129.2L315.7,129.4L317.2,129.5L318.6,129.7L320,129.9L321.5,130.1L322.8,130.2L324.2,130.4L325.6,130.6L326.9,130.7L328.2,130.9L329.5,131L330.8,131.2L332.1,131.3L333.4,131.4L334.6,131.6L335.8,131.7L337,131.8L338.2,131.9L339.4,132L340.5,132.1L341.7,132.2L342.8,132.3L343.9,132.4L344.9,132.4L346,132.5L347,132.6L348.1,132.6L349.1,132.7L350.1,132.7L351,132.8L352,132.8L352.9,132.8L353.8,132.8L354.7,132.9L355.6,132.9L356.5,132.9L357.3,132.9L358.1,132.9L359,132.9L359.7,132.9L360.5,132.8L361.2,132.8L362,132.8L362.7,132.8L363.4,132.8L364,132.7L364.7,132.7L365.3,132.7L365.9,132.6L366.5,132.6L367.1,132.5L367.6,132.5L368.1,132.5L368.6,132.4L369.1,132.4L369.5,132.4L370,132.4L370.4,132.4L370.8,132.3L371.1,132.3L371.5,132.3L371.8,132.3L372.1,132.3L372.4,132.3L372.6,132.3L372.8,132.3L373,132.4L373.2,132.4L373.3,132.4L373.4,132.4L373.5,132.4L373.6,132.4L373.7,132.4L373.8,132.4L374,132.4L374.2,132.3L374.4,132.3L374.6,132.3L374.9,132.3L375.2,132.3L375.5,132.3L375.9,132.3L376.2,132.3L376.6,132.4L377,132.4L377.5,132.4L377.9,132.4L378.4,132.4L378.9,132.5L379.4,132.5L379.9,132.5L380.5,132.6L381.1,132.6L381.7,132.7L382.3,132.7L383,132.7L383.6,132.8L384.3,132.8L385,132.8L385.8,132.8L386.5,132.8L387.3,132.9L388,132.9L388.9,132.9L389.7,132.9L390.5,132.9L391.4,132.9L392.3,132.9L393.2,132.8L394.1,132.8L395,132.8L396,132.8L396.9,132.7L397.9,132.7L398.9,132.6L400,132.6L401,132.5L402.1,132.4L403.1,132.4L404.2,132.3L405.3,132.2L406.5,132.1L407.6,132L408.8,131.9L410,131.8L411.2,131.7L412.4,131.6L413.6,131.4L414.9,131.3L416.2,131.2L417.5,131L418.8,130.9L420.1,130.7L421.4,130.6L422.8,130.4L424.2,130.2L425.5,130.1L427,129.9L428.4,129.7L429.8,129.5L431.3,129.4L432.7,129.2L434.2,129L435.7,128.8L437.3,128.6L438.8,128.4L440.4,128.1L441.9,127.9L443.5,127.7L445.1,127.5L446.7,127.3L448.4,127L450,126.8L451.7,126.6L453.4,126.3" stroke="#ff0000" stroke-width="4.3"/>
<path d="M329.5,131L330.8,131.2L332.1,131.3L333.4,131.4L334.6,131.6L335.8,131.7L337,131.8L338.2,131.9L339.4,132L340.5,132.1L341.7,132.2L342.8,132.3L343.9,132.4L344.9,132.4L346,132.5L347,132.6L348.1,132.6L349.1,132.7L350.1,132.7L351,132.8L352,132.8L352.9,132.8L353.8,132.8L354.7,132.9L355.6,132.9L356.5,132.9L357.3,132.9L358.1,132.9L359,132.9L359.7,132.9L360.5,132.8L361.2,132.8L362,132.8L362.7,132.8L363.4,132.8L364,132.7L364.7,132.7L365.3,132.7L365.9,132.6L366.5,132.6L367.1,132.5L367.6,132.5L368.1,132.5L368.6,132.4L369.1,132.4L369.5,132.4L370,132.4L370.4,132.4L370.8,132.3L371.1,132.3L371.5,132.3L371.8,132.3L372.1,132.3L372.4,132.3L372.6,132.3L372.8,132.3L373,132.4L373.2,132.4L373.3,132.4L373.4,132.4L373.5,132.4L373.6,132.4L373.7,132.4L373.8,132.4L374,132.4L374.2,132.3L374.4,132.3L374.6,132.3L374.9,132.3L375.2,132.3L375.5,132.3L375.9,132.3L376.2,132.3L376.6,132.4L377,132.4L377.5,132.4L377.9,132.4L378.4,132.4L378.9,132.5L379.4,132.5L379.9,132.5L380.5,132.6L381.1,132.6L381.7,132.7L382.3,132.7L383,132.7L383.6,132.8L384.3,132.8L385,132.8L385.8,132.8L386.5,132.8L387.3,132.9L388,132.9L388.9,132.9L389.7,132.9L390.5,132.9L391.4,132.9L392.3,132.9L393.2,132.8L394.1,132.8L395,132.8L396,132.8L396.9,132.7L397.9,132.7L398.9,132.6L400,132.6L401,132.5L402.1,132.4L403.1,132.4L404.2,132.3L405.3,132.2L406.5,132.1L407.6,132L408.8,131.9L410,131.8L411.2,131.7L412.4,131.6L413.6,131.4L414.9,131.3L416.2,131.2L417.5,131" stroke="#ff0000" stroke-width="4.6"/>
<circle cx="370.2" cy="131.3" r="4.3" fill="#ff0000" stroke="none"/>
<circle cx="376.8" cy="131.3" r="4.3" fill="#ff0000" stroke="none"/>
<circle cx="373.5" cy="139.7" r="3.0" fill="#ff0000" stroke="none"/>
</g>
<rect x="107.15" y="11.50" width="532.95" height="409.50" fill="none" stroke="#606060" stroke-width="1.0"/>
<line x1="195.98" y1="421.00" x2="195.98" y2="415.20" stroke="#606060" stroke-width="1.0"/>
<line x1="195.98" y1="11.50" x2="195.98" y2="17.30" stroke="#606060" stroke-width="1.0"/>
<line x1="284.80" y1="421.00" x2="284.80" y2="415.20" stroke="#606060" stroke-width="1.0"/>
<line x1="284.80" y1="11.50" x2="284.80" y2="17.30" stroke="#606060" stroke-width="1.0"/>
<line x1="373.62" y1="421.00" x2="373.62" y2="415.20" stroke="#606060" stroke-width="1.0"/>
<line x1="373.62" y1="11.50" x2="373.62" y2="17.30" stroke="#606060" stroke-width="1.0"/>
<line x1="462.45" y1="421.00" x2="462.45" y2="415.20" stroke="#606060" stroke-width="1.0"/>
<line x1="462.45" y1="11.50" x2="462.45" y2="17.30" stroke="#606060" stroke-width="1.0"/>
<line x1="551.28" y1="421.00" x2="551.28" y2="415.20" stroke="#606060" stroke-width="1.0"/>
<line x1="551.28" y1="11.50" x2="551.28" y2="17.30" stroke="#606060" stroke-width="1.0"/>
<line x1="107.15" y1="148.00" x2="112.95" y2="148.00" stroke="#606060" stroke-width="1.0"/>
<line x1="640.10" y1="148.00" x2="634.30" y2="148.00" stroke="#606060" stroke-width="1.0"/>
<line x1="107.15" y1="284.50" x2="112.95" y2="284.50" stroke="#606060" stroke-width="1.0"/>
<line x1="640.10" y1="284.50" x2="634.30" y2="284.50" stroke="#606060" stroke-width="1.0"/>
<text x="107.15" y="452.90" text-anchor="middle" font-size="25.8" fill="#111111" stroke="#111111">-15</text>
<text x="195.98" y="452.90" text-anchor="middle" font-size="25.8" fill="#111111" stroke="#111111">-10</text>
<text x="284.80" y="452.90" text-anchor="middle" font-size="25.8" fill="#111111" stroke="#111111">-5</text>
<text x="373.62" y="452.90" text-anchor="middle" font-size="25.8" fill="#111111" stroke="#111111">0</text>
<text x="462.45" y="452.90" text-anchor="middle" font-size="25.8" fill="#111111" stroke="#111111">5</text>
<text x="551.28" y="452.90" text-anchor="middle" font-size="25.8" fill="#111111" stroke="#111111">10</text>
<text x="640.10" y="452.90" text-anchor="middle" font-size="25.8" fill="#111111" stroke="#111111">15</text>
<text x="99.10" y="20.90" text-anchor="end" font-size="25.8" fill="#111111" stroke="#111111">0.1</text>
<text x="99.10" y="157.40" text-anchor="end" font-size="25.8" fill="#111111" stroke="#111111">0</text>
<text x="99.10" y="293.90" text-anchor="end" font-size="25.8" fill="#111111" stroke="#111111">-0.1</text>
<text x="99.10" y="430.40" text-anchor="end" font-size="25.8" fill="#111111" stroke="#111111">-0.2</text>
<text fill="#111111" stroke="#111111"><tspan x="330.25" y="485.90" font-size="28.50" textLength="14.20" lengthAdjust="spacingAndGlyphs" class="m">μ</tspan><tspan x="346.82" y="500.20" font-size="22.40" textLength="11.47" lengthAdjust="spacingAndGlyphs">0</tspan><tspan x="358.63" y="485.90" font-size="28.40" textLength="19.74" lengthAdjust="spacingAndGlyphs" class="i">H</tspan> <tspan x="386.63" y="485.90" font-size="28.40" textLength="7.57" lengthAdjust="spacingAndGlyphs">(</tspan><tspan x="394.34" y="485.90" font-size="28.40">T</tspan><tspan x="410.22" y="485.90" font-size="28.40" textLength="7.57" lengthAdjust="spacingAndGlyphs">)</tspan></text>
<text transform="rotate(-90)" fill="#111111" stroke="#111111"><tspan x="-340.05" y="31.50" font-size="28.50" textLength="13.44" lengthAdjust="spacingAndGlyphs" class="m">ρ</tspan><tspan x="-326.78" y="45.50" font-size="22.40" textLength="11.06" lengthAdjust="spacingAndGlyphs">x</tspan><tspan x="-315.25" y="45.50" font-size="22.40" textLength="10.00" lengthAdjust="spacingAndGlyphs">y</tspan><tspan x="-303.85" y="31.50" font-size="28.40" textLength="8.99" lengthAdjust="spacingAndGlyphs" style="stroke-width:0.0px">/</tspan><tspan x="-293.45" y="31.50" font-size="28.50" textLength="15.27" lengthAdjust="spacingAndGlyphs" class="m">μ</tspan><tspan x="-277.63" y="45.50" font-size="22.40" textLength="12.18" lengthAdjust="spacingAndGlyphs">0</tspan><tspan x="-265.28" y="31.50" font-size="28.40" textLength="20.05" lengthAdjust="spacingAndGlyphs" class="i">H</tspan> <tspan x="-237.30" y="31.50" font-size="28.40" textLength="8.04" lengthAdjust="spacingAndGlyphs">(</tspan><tspan x="-228.45" y="31.50" font-size="28.50" textLength="14.74" lengthAdjust="spacingAndGlyphs" class="m">μ</tspan><tspan x="-213.14" y="31.50" font-size="29.00" textLength="20.67" lengthAdjust="spacingAndGlyphs" class="r">Ω</tspan><tspan x="-192.41" y="31.50" font-size="28.40" textLength="10.06" lengthAdjust="spacingAndGlyphs">-</tspan><tspan x="-181.95" y="31.50" font-size="28.40" textLength="14.42" lengthAdjust="spacingAndGlyphs">c</tspan><tspan x="-167.13" y="31.50" font-size="28.40" textLength="24.04" lengthAdjust="spacingAndGlyphs">m</tspan> <tspan x="-135.83" y="31.50" font-size="28.40" textLength="16.65" lengthAdjust="spacingAndGlyphs">T</tspan><tspan x="-118.56" y="17.60" font-size="22.40">-</tspan><tspan x="-111.40" y="17.60" font-size="22.40">1</tspan><tspan x="-98.28" y="31.50" font-size="28.40" textLength="7.57" lengthAdjust="spacingAndGlyphs">)</tspan></text>
<text fill="#000" stroke="#000" style="stroke-width:0.8px"><tspan x="3.78" y="43.65" font-size="39.04" textLength="9.80" lengthAdjust="spacingAndGlyphs">(</tspan><tspan x="16.69" y="44.38" font-size="36.73" textLength="16.19" lengthAdjust="spacingAndGlyphs">a</tspan><tspan x="38.95" y="43.65" font-size="39.04" textLength="9.99" lengthAdjust="spacingAndGlyphs">)</tspan></text>
<rect x="118.5" y="176.5" width="111.50" height="230.50" fill="#fff" stroke="#606060" stroke-width="1.0"/>
<circle cx="142.5" cy="194.40" r="5.5" fill="#0000ff"/>
<text x="165.10" y="203.60" font-size="25.8" fill="#000" stroke="#000">2K</text>
<circle cx="142.5" cy="226.82" r="5.5" fill="#2a00d4"/>
<text x="165.10" y="236.02" font-size="25.8" fill="#000" stroke="#000">25K</text>
<circle cx="142.5" cy="259.24" r="5.5" fill="#5500aa"/>
<text x="165.10" y="268.44" font-size="25.8" fill="#000" stroke="#000">50K</text>
<circle cx="142.5" cy="291.66" r="5.5" fill="#800080"/>
<text x="165.10" y="300.86" font-size="25.8" fill="#000" stroke="#000">80K</text>
<circle cx="142.5" cy="324.08" r="5.5" fill="#aa0055"/>
<text x="165.10" y="333.28" font-size="25.8" fill="#000" stroke="#000">110K</text>
<circle cx="142.5" cy="356.50" r="5.5" fill="#d4002a"/>
<text x="165.10" y="365.70" font-size="25.8" fill="#000" stroke="#000">150K</text>
<circle cx="142.5" cy="388.92" r="5.5" fill="#ff0000"/>
<text x="165.10" y="398.12" font-size="25.8" fill="#000" stroke="#000">180K</text>
<g fill="none" stroke-linecap="round" stroke-linejoin="round" stroke-width="3.7">
<path d="M801.5,20.3L804.3,20.2L807,20.1L809.8,20L812.5,19.9L815.2,19.8L817.9,19.7L820.6,19.6L823.3,19.5L825.9,19.4L828.6,19.3L831.2,19.2L833.8,19L836.4,18.9L839,18.7L841.6,18.6L844.1,18.4L846.7,18.4L849.2,18.4L851.7,18.7L854.2,19.1L856.7,19.8L859.2,20.6L861.7,21.6L864.1,22.6L866.5,23.8L869,24.9L871.4,26.1L873.7,27.1L876.1,28.1L878.5,29L880.8,29.9L883.1,30.6L885.5,31.3L887.8,32L890,32.5L892.3,33.1L894.6,33.6L896.8,34.1L899,34.5L901.2,35L903.4,35.4L905.6,35.8L907.8,36.3L909.9,36.7L912.1,37.1L914.2,37.6L916.3,38L918.4,38.4L920.5,38.9L922.5,39.4L924.6,39.9L926.6,40.4L928.6,40.9L930.6,41.4L932.6,42L934.6,42.6L936.5,43.2L938.5,43.8L940.4,44.4L942.3,45.1L944.2,45.7L946.1,46.4L947.9,47L949.8,47.7L951.6,48.3L953.4,49L955.2,49.6L957,50.2L958.8,50.8L960.6,51.3L962.3,51.9L964,52.3L965.7,52.8L967.4,53.2L969.1,53.6L970.7,54L972.4,54.4L974,54.8L975.6,55.1L977.2,55.5L978.8,55.9L980.4,56.3L981.9,56.7L983.4,57.1L985,57.6L986.5,58.1L987.9,58.6L989.4,59.2L990.9,59.9L992.3,60.7L993.7,61.5L995.1,62.4L996.5,63.5L997.9,64.7L999.2,66L1000.5,67.4L1001.9,69L1003.2,70.7L1004.4,72.5L1005.7,74.5L1006.9,76.6L1008.2,78.9L1009.4,81.3L1010.6,83.9L1011.8,86.8L1012.9,89.9L1014.1,93.4L1015.2,97.3L1016.3,102L1017.4,107.8L1018.5,115L1019.5,123.5L1020.6,133L1021.6,143.2L1022.6,153.5L1023.6,163.7L1024.6,173.6L1025.5,183.2L1026.4,192.3L1027.3,200.6L1028.2,208.4L1029.1,216L1030,224L1030.8,233.1L1031.6,243.5L1032.4,254.8L1033.2,266.4L1034,278.1L1034.7,289.6L1035.4,300.8L1036.1,311.4L1036.8,321.4L1037.5,330.6L1038.1,338.8L1038.7,346.2L1039.3,352.8L1039.9,358.7L1040.5,363.8L1041,368.4L1041.5,372.4L1042,375.9L1042.5,379L1043,381.7L1043.4,384.2L1043.8,386.4L1044.2,388.4L1044.6,390.2L1044.9,391.8L1045.2,393L1045.5,394.1L1045.8,394.9L1046,395.6L1046.2,396L1046.4,396.3L1046.6,396.5L1046.7,396.6L1046.8,396.6L1046.9,396.6L1047,396.6L1047.1,396.6L1047.2,396.5L1047.4,396.3L1047.6,396L1047.8,395.6L1048,394.9L1048.3,394.1L1048.6,393L1048.9,391.8L1049.2,390.2L1049.6,388.4L1050,386.4L1050.4,384.2L1050.8,381.7L1051.3,379L1051.8,375.9L1052.3,372.4L1052.8,368.4L1053.3,363.8L1053.9,358.7L1054.5,352.8L1055.1,346.2L1055.7,338.8L1056.3,330.6L1057,321.4L1057.7,311.4L1058.4,300.8L1059.1,289.6L1059.8,278.1L1060.6,266.4L1061.4,254.8L1062.2,243.5L1063,233.1L1063.8,224L1064.7,216L1065.6,208.4L1066.5,200.6L1067.4,192.3L1068.3,183.2L1069.2,173.6L1070.2,163.7L1071.2,153.5L1072.2,143.2L1073.2,133L1074.3,123.5L1075.3,115L1076.4,107.8L1077.5,102L1078.6,97.3L1079.7,93.4L1080.9,89.9L1082,86.8L1083.2,83.9L1084.4,81.3L1085.6,78.9L1086.9,76.6L1088.1,74.5L1089.4,72.5L1090.6,70.7L1091.9,69L1093.3,67.4L1094.6,66L1095.9,64.7L1097.3,63.5L1098.7,62.4L1100.1,61.5L1101.5,60.7L1102.9,59.9L1104.4,59.2L1105.9,58.6L1107.3,58.1L1108.8,57.6L1110.4,57.1L1111.9,56.7L1113.4,56.3L1115,55.9L1116.6,55.5L1118.2,55.1L1119.8,54.8L1121.4,54.4L1123.1,54L1124.7,53.6L1126.4,53.2L1128.1,52.8L1129.8,52.3L1131.5,51.9L1133.2,51.3L1135,50.8L1136.8,50.2L1138.6,49.6L1140.4,49L1142.2,48.3L1144,47.7L1145.9,47L1147.7,46.4L1149.6,45.7L1151.5,45.1L1153.4,44.4L1155.3,43.8L1157.3,43.2L1159.2,42.6L1161.2,42L1163.2,41.4L1165.2,40.9L1167.2,40.4L1169.2,39.9L1171.3,39.4L1173.3,38.9L1175.4,38.4L1177.5,38L1179.6,37.6L1181.7,37.1L1183.9,36.7L1186,36.3L1188.2,35.8L1190.4,35.4L1192.6,35L1194.8,34.5L1197,34.1L1199.2,33.6L1201.5,33.1L1203.8,32.5L1206,32L1208.3,31.3L1210.7,30.6L1213,29.9L1215.3,29L1217.7,28.1L1220.1,27.1L1222.4,26.1L1224.8,24.9L1227.3,23.8L1229.7,22.6L1232.1,21.6L1234.6,20.6L1237.1,19.8L1239.6,19.1L1242.1,18.7L1244.6,18.4L1247.1,18.4L1249.7,18.4L1252.2,18.6L1254.8,18.7L1257.4,18.9L1260,19L1262.6,19.2L1265.2,19.3L1267.9,19.4L1270.5,19.5L1273.2,19.6L1275.9,19.7L1278.6,19.8L1281.3,19.9L1284,20L1286.8,20.1L1289.5,20.2L1292.3,20.3" stroke="#0000ff"/>
<path d="M801.5,20.5L804.3,20.4L807,20.3L809.8,20.3L812.5,20.4L815.2,20.5L817.9,20.6L820.6,20.8L823.3,21L825.9,21.2L828.6,21.5L831.2,21.8L833.8,22.1L836.4,22.5L839,22.9L841.6,23.3L844.1,23.7L846.7,24.1L849.2,24.5L851.7,25L854.2,25.4L856.7,25.8L859.2,26.3L861.7,26.8L864.1,27.2L866.5,27.7L869,28.2L871.4,28.7L873.7,29.2L876.1,29.7L878.5,30.2L880.8,30.7L883.1,31.2L885.5,31.7L887.8,32.3L890,32.8L892.3,33.3L894.6,33.9L896.8,34.4L899,34.9L901.2,35.5L903.4,36L905.6,36.6L907.8,37.1L909.9,37.7L912.1,38.2L914.2,38.8L916.3,39.3L918.4,39.9L920.5,40.4L922.5,40.9L924.6,41.5L926.6,42L928.6,42.5L930.6,43L932.6,43.5L934.6,44L936.5,44.5L938.5,45L940.4,45.5L942.3,45.9L944.2,46.4L946.1,46.8L947.9,47.2L949.8,47.6L951.6,48L953.4,48.3L955.2,48.7L957,49L958.8,49.4L960.6,49.7L962.3,50L964,50.3L965.7,50.6L967.4,50.9L969.1,51.2L970.7,51.6L972.4,51.9L974,52.2L975.6,52.6L977.2,52.9L978.8,53.3L980.4,53.7L981.9,54.2L983.4,54.6L985,55.1L986.5,55.7L987.9,56.2L989.4,56.9L990.9,57.5L992.3,58.3L993.7,59.1L995.1,60L996.5,60.9L997.9,61.9L999.2,63.1L1000.5,64.3L1001.9,65.8L1003.2,67.4L1004.4,69.2L1005.7,71.3L1006.9,73.6L1008.2,76.3L1009.4,79.4L1010.6,82.9L1011.8,86.7L1012.9,90.9L1014.1,95.5L1015.2,100.5L1016.3,106L1017.4,112L1018.5,118.9L1019.5,126.6L1020.6,135.3L1021.6,144.9L1022.6,155.1L1023.6,165.5L1024.6,175.6L1025.5,185.3L1026.4,194.3L1027.3,202.4L1028.2,209.8L1029.1,217.4L1030,226.1L1030.8,237L1031.6,249.8L1032.4,263.3L1033.2,276.6L1034,289.2L1034.7,301.2L1035.4,312.5L1036.1,322.9L1036.8,332.4L1037.5,340.9L1038.1,348.6L1038.7,355.6L1039.3,361.8L1039.9,367.4L1040.5,372.5L1041,377.2L1041.5,381.5L1042,385.7L1042.5,389.7L1043,393.5L1043.4,397L1043.8,400.2L1044.2,403L1044.6,405.2L1044.9,407L1045.2,408.4L1045.5,409.4L1045.8,410.1L1046,410.6L1046.2,410.9L1046.4,411.1L1046.6,411.2L1046.7,411.3L1046.8,411.3L1046.9,411.3L1047,411.3L1047.1,411.3L1047.2,411.2L1047.4,411.1L1047.6,410.9L1047.8,410.6L1048,410.1L1048.3,409.4L1048.6,408.4L1048.9,407L1049.2,405.2L1049.6,403L1050,400.2L1050.4,397L1050.8,393.5L1051.3,389.7L1051.8,385.7L1052.3,381.5L1052.8,377.2L1053.3,372.5L1053.9,367.4L1054.5,361.8L1055.1,355.6L1055.7,348.6L1056.3,340.9L1057,332.4L1057.7,322.9L1058.4,312.5L1059.1,301.2L1059.8,289.2L1060.6,276.6L1061.4,263.3L1062.2,249.8L1063,237L1063.8,226.1L1064.7,217.4L1065.6,209.8L1066.5,202.4L1067.4,194.3L1068.3,185.3L1069.2,175.6L1070.2,165.5L1071.2,155.1L1072.2,144.9L1073.2,135.3L1074.3,126.6L1075.3,118.9L1076.4,112L1077.5,106L1078.6,100.5L1079.7,95.5L1080.9,90.9L1082,86.7L1083.2,82.9L1084.4,79.4L1085.6,76.3L1086.9,73.6L1088.1,71.3L1089.4,69.2L1090.6,67.4L1091.9,65.8L1093.3,64.3L1094.6,63.1L1095.9,61.9L1097.3,60.9L1098.7,60L1100.1,59.1L1101.5,58.3L1102.9,57.5L1104.4,56.9L1105.9,56.2L1107.3,55.7L1108.8,55.1L1110.4,54.6L1111.9,54.2L1113.4,53.7L1115,53.3L1116.6,52.9L1118.2,52.6L1119.8,52.2L1121.4,51.9L1123.1,51.6L1124.7,51.2L1126.4,50.9L1128.1,50.6L1129.8,50.3L1131.5,50L1133.2,49.7L1135,49.4L1136.8,49L1138.6,48.7L1140.4,48.3L1142.2,48L1144,47.6L1145.9,47.2L1147.7,46.8L1149.6,46.4L1151.5,45.9L1153.4,45.5L1155.3,45L1157.3,44.5L1159.2,44L1161.2,43.5L1163.2,43L1165.2,42.5L1167.2,42L1169.2,41.5L1171.3,40.9L1173.3,40.4L1175.4,39.9L1177.5,39.3L1179.6,38.8L1181.7,38.2L1183.9,37.7L1186,37.1L1188.2,36.6L1190.4,36L1192.6,35.5L1194.8,34.9L1197,34.4L1199.2,33.9L1201.5,33.3L1203.8,32.8L1206,32.3L1208.3,31.7L1210.7,31.2L1213,30.7L1215.3,30.2L1217.7,29.7L1220.1,29.2L1222.4,28.7L1224.8,28.2L1227.3,27.7L1229.7,27.2L1232.1,26.8L1234.6,26.3L1237.1,25.8L1239.6,25.4L1242.1,25L1244.6,24.5L1247.1,24.1L1249.7,23.7L1252.2,23.3L1254.8,22.9L1257.4,22.5L1260,22.1L1262.6,21.8L1265.2,21.5L1267.9,21.2L1270.5,21L1273.2,20.8L1275.9,20.6L1278.6,20.5L1281.3,20.4L1284,20.3L1286.8,20.3L1289.5,20.4L1292.3,20.5" stroke="#3300cc"/>
<path d="M801.5,23.4L804.3,23.5L807,23.6L809.8,23.7L812.5,23.8L815.2,23.9L817.9,24L820.6,24.1L823.3,24.3L825.9,24.4L828.6,24.6L831.2,24.8L833.8,25L836.4,25.2L839,25.4L841.6,25.7L844.1,26L846.7,26.3L849.2,26.6L851.7,26.9L854.2,27.2L856.7,27.5L859.2,27.9L861.7,28.3L864.1,28.7L866.5,29.1L869,29.5L871.4,29.9L873.7,30.3L876.1,30.8L878.5,31.2L880.8,31.7L883.1,32.2L885.5,32.7L887.8,33.2L890,33.7L892.3,34.2L894.6,34.7L896.8,35.2L899,35.7L901.2,36.2L903.4,36.8L905.6,37.3L907.8,37.8L909.9,38.4L912.1,38.9L914.2,39.4L916.3,39.9L918.4,40.4L920.5,40.9L922.5,41.4L924.6,41.9L926.6,42.4L928.6,42.9L930.6,43.3L932.6,43.7L934.6,44.2L936.5,44.7L938.5,45.2L940.4,45.7L942.3,46.4L944.2,47.1L946.1,47.9L947.9,48.7L949.8,49.7L951.6,50.7L953.4,51.7L955.2,52.8L957,54L958.8,55.2L960.6,56.5L962.3,57.8L964,59.1L965.7,60.5L967.4,61.8L969.1,63.2L970.7,64.6L972.4,66.1L974,67.5L975.6,69L977.2,70.6L978.8,72.2L980.4,73.9L981.9,75.6L983.4,77.5L985,79.5L986.5,81.6L987.9,83.9L989.4,86.3L990.9,88.9L992.3,91.7L993.7,94.7L995.1,97.9L996.5,101.4L997.9,105.2L999.2,109.3L1000.5,113.7L1001.9,118.4L1003.2,123.4L1004.4,128.6L1005.7,134L1006.9,139.6L1008.2,145.4L1009.4,151.3L1010.6,157.3L1011.8,163.4L1012.9,169.4L1014.1,175.4L1015.2,181.4L1016.3,187.4L1017.4,193.2L1018.5,199L1019.5,204.7L1020.6,210.3L1021.6,215.8L1022.6,221.1L1023.6,226.3L1024.6,231.4L1025.5,236.4L1026.4,241.1L1027.3,245.8L1028.2,250.2L1029.1,254.4L1030,258.4L1030.8,262.2L1031.6,265.8L1032.4,269.2L1033.2,272.5L1034,275.7L1034.7,278.8L1035.4,282L1036.1,285L1036.8,288L1037.5,290.9L1038.1,293.6L1038.7,296.3L1039.3,298.7L1039.9,301L1040.5,303L1041,304.8L1041.5,306.5L1042,307.9L1042.5,309.2L1043,310.2L1043.4,311.2L1043.8,312L1044.2,312.6L1044.6,313.1L1044.9,313.5L1045.2,313.9L1045.5,314.1L1045.8,314.3L1046,314.4L1046.2,314.5L1046.4,314.5L1046.6,314.5L1046.7,314.5L1046.8,314.5L1046.9,314.5L1047,314.5L1047.1,314.5L1047.2,314.5L1047.4,314.5L1047.6,314.5L1047.8,314.4L1048,314.3L1048.3,314.1L1048.6,313.9L1048.9,313.5L1049.2,313.1L1049.6,312.6L1050,312L1050.4,311.2L1050.8,310.2L1051.3,309.2L1051.8,307.9L1052.3,306.5L1052.8,304.8L1053.3,303L1053.9,301L1054.5,298.7L1055.1,296.3L1055.7,293.6L1056.3,290.9L1057,288L1057.7,285L1058.4,282L1059.1,278.8L1059.8,275.7L1060.6,272.5L1061.4,269.2L1062.2,265.8L1063,262.2L1063.8,258.4L1064.7,254.4L1065.6,250.2L1066.5,245.8L1067.4,241.1L1068.3,236.4L1069.2,231.4L1070.2,226.3L1071.2,221.1L1072.2,215.8L1073.2,210.3L1074.3,204.7L1075.3,199L1076.4,193.2L1077.5,187.4L1078.6,181.4L1079.7,175.4L1080.9,169.4L1082,163.4L1083.2,157.3L1084.4,151.3L1085.6,145.4L1086.9,139.6L1088.1,134L1089.4,128.6L1090.6,123.4L1091.9,118.4L1093.3,113.7L1094.6,109.3L1095.9,105.2L1097.3,101.4L1098.7,97.9L1100.1,94.7L1101.5,91.7L1102.9,88.9L1104.4,86.3L1105.9,83.9L1107.3,81.6L1108.8,79.5L1110.4,77.5L1111.9,75.6L1113.4,73.9L1115,72.2L1116.6,70.6L1118.2,69L1119.8,67.5L1121.4,66.1L1123.1,64.6L1124.7,63.2L1126.4,61.8L1128.1,60.5L1129.8,59.1L1131.5,57.8L1133.2,56.5L1135,55.2L1136.8,54L1138.6,52.8L1140.4,51.7L1142.2,50.7L1144,49.7L1145.9,48.7L1147.7,47.9L1149.6,47.1L1151.5,46.4L1153.4,45.7L1155.3,45.2L1157.3,44.7L1159.2,44.2L1161.2,43.7L1163.2,43.3L1165.2,42.9L1167.2,42.4L1169.2,41.9L1171.3,41.4L1173.3,40.9L1175.4,40.4L1177.5,39.9L1179.6,39.4L1181.7,38.9L1183.9,38.4L1186,37.8L1188.2,37.3L1190.4,36.8L1192.6,36.2L1194.8,35.7L1197,35.2L1199.2,34.7L1201.5,34.2L1203.8,33.7L1206,33.2L1208.3,32.7L1210.7,32.2L1213,31.7L1215.3,31.2L1217.7,30.8L1220.1,30.3L1222.4,29.9L1224.8,29.5L1227.3,29.1L1229.7,28.7L1232.1,28.3L1234.6,27.9L1237.1,27.5L1239.6,27.2L1242.1,26.9L1244.6,26.6L1247.1,26.3L1249.7,26L1252.2,25.7L1254.8,25.4L1257.4,25.2L1260,25L1262.6,24.8L1265.2,24.6L1267.9,24.4L1270.5,24.3L1273.2,24.1L1275.9,24L1278.6,23.9L1281.3,23.8L1284,23.7L1286.8,23.6L1289.5,23.5L1292.3,23.4" stroke="#660099"/>
<path d="M801.5,29.1L804.3,29.1L807,29L809.8,29L812.5,28.9L815.2,28.8L817.9,28.7L820.6,28.5L823.3,28.4L825.9,28.3L828.6,28.3L831.2,28.4L833.8,28.6L836.4,28.9L839,29.2L841.6,29.6L844.1,30L846.7,30.4L849.2,30.8L851.7,31.2L854.2,31.6L856.7,31.9L859.2,32.3L861.7,32.6L864.1,33L866.5,33.4L869,33.8L871.4,34.2L873.7,34.7L876.1,35.2L878.5,35.8L880.8,36.4L883.1,37L885.5,37.7L887.8,38.5L890,39.2L892.3,40L894.6,40.8L896.8,41.7L899,42.6L901.2,43.6L903.4,44.5L905.6,45.5L907.8,46.5L909.9,47.6L912.1,48.7L914.2,49.8L916.3,50.9L918.4,52L920.5,53.2L922.5,54.4L924.6,55.6L926.6,56.8L928.6,58L930.6,59.3L932.6,60.7L934.6,62.1L936.5,63.5L938.5,65L940.4,66.6L942.3,68.2L944.2,69.9L946.1,71.7L947.9,73.6L949.8,75.7L951.6,77.7L953.4,79.9L955.2,82.2L957,84.5L958.8,86.8L960.6,89.2L962.3,91.6L964,94L965.7,96.4L967.4,98.8L969.1,101.2L970.7,103.5L972.4,105.8L974,108.1L975.6,110.4L977.2,112.7L978.8,115L980.4,117.2L981.9,119.4L983.4,121.6L985,123.8L986.5,125.9L987.9,128.1L989.4,130.2L990.9,132.3L992.3,134.3L993.7,136.4L995.1,138.4L996.5,140.4L997.9,142.3L999.2,144.3L1000.5,146.2L1001.9,148.1L1003.2,149.9L1004.4,151.7L1005.7,153.5L1006.9,155.3L1008.2,157L1009.4,158.7L1010.6,160.4L1011.8,162L1012.9,163.6L1014.1,165.2L1015.2,166.7L1016.3,168.2L1017.4,169.6L1018.5,171.1L1019.5,172.4L1020.6,173.8L1021.6,175.1L1022.6,176.3L1023.6,177.5L1024.6,178.7L1025.5,179.8L1026.4,180.9L1027.3,181.9L1028.2,182.9L1029.1,183.9L1030,184.8L1030.8,185.6L1031.6,186.4L1032.4,187.2L1033.2,187.9L1034,188.6L1034.7,189.2L1035.4,189.8L1036.1,190.3L1036.8,190.8L1037.5,191.2L1038.1,191.6L1038.7,192L1039.3,192.3L1039.9,192.6L1040.5,192.8L1041,193L1041.5,193.2L1042,193.4L1042.5,193.5L1043,193.6L1043.4,193.7L1043.8,193.7L1044.2,193.7L1044.6,193.8L1044.9,193.8L1045.2,193.8L1045.5,193.8L1045.8,193.8L1046,193.8L1046.2,193.8L1046.4,193.8L1046.6,193.8L1046.7,193.8L1046.8,193.8L1046.9,193.8L1047,193.8L1047.1,193.8L1047.2,193.8L1047.4,193.8L1047.6,193.8L1047.8,193.8L1048,193.8L1048.3,193.8L1048.6,193.8L1048.9,193.8L1049.2,193.8L1049.6,193.7L1050,193.7L1050.4,193.7L1050.8,193.6L1051.3,193.5L1051.8,193.4L1052.3,193.2L1052.8,193L1053.3,192.8L1053.9,192.6L1054.5,192.3L1055.1,192L1055.7,191.6L1056.3,191.2L1057,190.8L1057.7,190.3L1058.4,189.8L1059.1,189.2L1059.8,188.6L1060.6,187.9L1061.4,187.2L1062.2,186.4L1063,185.6L1063.8,184.8L1064.7,183.9L1065.6,182.9L1066.5,181.9L1067.4,180.9L1068.3,179.8L1069.2,178.7L1070.2,177.5L1071.2,176.3L1072.2,175.1L1073.2,173.8L1074.3,172.4L1075.3,171.1L1076.4,169.6L1077.5,168.2L1078.6,166.7L1079.7,165.2L1080.9,163.6L1082,162L1083.2,160.4L1084.4,158.7L1085.6,157L1086.9,155.3L1088.1,153.5L1089.4,151.7L1090.6,149.9L1091.9,148.1L1093.3,146.2L1094.6,144.3L1095.9,142.3L1097.3,140.4L1098.7,138.4L1100.1,136.4L1101.5,134.3L1102.9,132.3L1104.4,130.2L1105.9,128.1L1107.3,125.9L1108.8,123.8L1110.4,121.6L1111.9,119.4L1113.4,117.2L1115,115L1116.6,112.7L1118.2,110.4L1119.8,108.1L1121.4,105.8L1123.1,103.5L1124.7,101.2L1126.4,98.8L1128.1,96.4L1129.8,94L1131.5,91.6L1133.2,89.2L1135,86.8L1136.8,84.5L1138.6,82.2L1140.4,79.9L1142.2,77.7L1144,75.7L1145.9,73.6L1147.7,71.7L1149.6,69.9L1151.5,68.2L1153.4,66.6L1155.3,65L1157.3,63.5L1159.2,62.1L1161.2,60.7L1163.2,59.3L1165.2,58L1167.2,56.8L1169.2,55.6L1171.3,54.4L1173.3,53.2L1175.4,52L1177.5,50.9L1179.6,49.8L1181.7,48.7L1183.9,47.6L1186,46.5L1188.2,45.5L1190.4,44.5L1192.6,43.6L1194.8,42.6L1197,41.7L1199.2,40.8L1201.5,40L1203.8,39.2L1206,38.5L1208.3,37.7L1210.7,37L1213,36.4L1215.3,35.8L1217.7,35.2L1220.1,34.7L1222.4,34.2L1224.8,33.8L1227.3,33.4L1229.7,33L1232.1,32.6L1234.6,32.3L1237.1,31.9L1239.6,31.6L1242.1,31.2L1244.6,30.8L1247.1,30.4L1249.7,30L1252.2,29.6L1254.8,29.2L1257.4,28.9L1260,28.6L1262.6,28.4L1265.2,28.3L1267.9,28.3L1270.5,28.4L1273.2,28.5L1275.9,28.7L1278.6,28.8L1281.3,28.9L1284,29L1286.8,29L1289.5,29.1L1292.3,29.1" stroke="#990066"/>
<path d="M801.5,65.8L804.3,65.9L807,66L809.8,66.2L812.5,66.5L815.2,66.8L817.9,67.2L820.6,67.7L823.3,68.1L825.9,68.6L828.6,69L831.2,69.3L833.8,69.6L836.4,69.9L839,70.1L841.6,70.5L844.1,70.8L846.7,71.2L849.2,71.7L851.7,72.2L854.2,72.7L856.7,73.2L859.2,73.8L861.7,74.4L864.1,75.1L866.5,75.8L869,76.6L871.4,77.5L873.7,78.5L876.1,79.5L878.5,80.5L880.8,81.6L883.1,82.6L885.5,83.5L887.8,84.3L890,85L892.3,85.6L894.6,86.2L896.8,86.8L899,87.6L901.2,88.4L903.4,89.3L905.6,90.4L907.8,91.5L909.9,92.6L912.1,93.8L914.2,95.1L916.3,96.3L918.4,97.6L920.5,98.8L922.5,100L924.6,101.2L926.6,102.3L928.6,103.5L930.6,104.7L932.6,105.8L934.6,106.9L936.5,108L938.5,109.1L940.4,110.2L942.3,111.3L944.2,112.4L946.1,113.5L947.9,114.6L949.8,115.6L951.6,116.7L953.4,117.8L955.2,118.8L957,119.9L958.8,121L960.6,122.1L962.3,123.2L964,124.3L965.7,125.4L967.4,126.5L969.1,127.6L970.7,128.7L972.4,129.9L974,131L975.6,132.1L977.2,133.3L978.8,134.4L980.4,135.6L981.9,136.7L983.4,137.9L985,139.1L986.5,140.2L987.9,141.3L989.4,142.5L990.9,143.6L992.3,144.7L993.7,145.9L995.1,147L996.5,148L997.9,149.1L999.2,150.2L1000.5,151.2L1001.9,152.2L1003.2,153.2L1004.4,154.2L1005.7,155.1L1006.9,156L1008.2,156.9L1009.4,157.7L1010.6,158.6L1011.8,159.3L1012.9,160.1L1014.1,160.8L1015.2,161.5L1016.3,162.2L1017.4,162.8L1018.5,163.4L1019.5,163.9L1020.6,164.5L1021.6,165L1022.6,165.4L1023.6,165.9L1024.6,166.3L1025.5,166.6L1026.4,167L1027.3,167.3L1028.2,167.6L1029.1,167.9L1030,168.1L1030.8,168.3L1031.6,168.5L1032.4,168.7L1033.2,168.9L1034,169L1034.7,169.1L1035.4,169.3L1036.1,169.4L1036.8,169.5L1037.5,169.6L1038.1,169.7L1038.7,169.8L1039.3,169.8L1039.9,169.9L1040.5,170L1041,170.1L1041.5,170.1L1042,170.2L1042.5,170.2L1043,170.3L1043.4,170.3L1043.8,170.4L1044.2,170.4L1044.6,170.4L1044.9,170.4L1045.2,170.4L1045.5,170.4L1045.8,170.4L1046,170.4L1046.2,170.4L1046.4,170.4L1046.6,170.4L1046.7,170.4L1046.8,170.4L1046.9,170.4L1046.9,170.3L1046.9,170.4L1047,170.4L1047.1,170.4L1047.2,170.4L1047.4,170.4L1047.6,170.4L1047.8,170.4L1048,170.4L1048.3,170.4L1048.6,170.4L1048.9,170.4L1049.2,170.4L1049.6,170.4L1050,170.4L1050.4,170.3L1050.8,170.3L1051.3,170.2L1051.8,170.2L1052.3,170.1L1052.8,170.1L1053.3,170L1053.9,169.9L1054.5,169.8L1055.1,169.8L1055.7,169.7L1056.3,169.6L1057,169.5L1057.7,169.4L1058.4,169.3L1059.1,169.1L1059.8,169L1060.6,168.9L1061.4,168.7L1062.2,168.5L1063,168.3L1063.8,168.1L1064.7,167.9L1065.6,167.6L1066.5,167.3L1067.4,167L1068.3,166.6L1069.2,166.3L1070.2,165.9L1071.2,165.4L1072.2,165L1073.2,164.5L1074.3,163.9L1075.3,163.4L1076.4,162.8L1077.5,162.2L1078.6,161.5L1079.7,160.8L1080.9,160.1L1082,159.3L1083.2,158.6L1084.4,157.7L1085.6,156.9L1086.9,156L1088.1,155.1L1089.4,154.2L1090.6,153.2L1091.9,152.2L1093.3,151.2L1094.6,150.2L1095.9,149.1L1097.3,148L1098.7,147L1100.1,145.9L1101.5,144.7L1102.9,143.6L1104.4,142.5L1105.9,141.3L1107.3,140.2L1108.8,139.1L1110.4,137.9L1111.9,136.7L1113.4,135.6L1115,134.4L1116.6,133.3L1118.2,132.1L1119.8,131L1121.4,129.9L1123.1,128.7L1124.7,127.6L1126.4,126.5L1128.1,125.4L1129.8,124.3L1131.5,123.2L1133.2,122.1L1135,121L1136.8,119.9L1138.6,118.8L1140.4,117.8L1142.2,116.7L1144,115.6L1145.9,114.6L1147.7,113.5L1149.6,112.4L1151.5,111.3L1153.4,110.2L1155.3,109.1L1157.3,108L1159.2,106.9L1161.2,105.8L1163.2,104.7L1165.2,103.5L1167.2,102.3L1169.2,101.2L1171.3,100L1173.3,98.8L1175.4,97.6L1177.5,96.3L1179.6,95.1L1181.7,93.8L1183.9,92.6L1186,91.5L1188.2,90.4L1190.4,89.3L1192.6,88.4L1194.8,87.6L1197,86.8L1199.2,86.2L1201.5,85.6L1203.8,85L1206,84.3L1208.3,83.5L1210.7,82.6L1213,81.6L1215.3,80.5L1217.7,79.5L1220.1,78.5L1222.4,77.5L1224.8,76.6L1227.3,75.8L1229.7,75.1L1232.1,74.4L1234.6,73.8L1237.1,73.2L1239.6,72.7L1242.1,72.2L1244.6,71.7L1247.1,71.2L1249.7,70.8L1252.2,70.5L1254.8,70.1L1257.4,69.9L1260,69.6L1262.6,69.3L1265.2,69L1267.9,68.6L1270.5,68.1L1273.2,67.7L1275.9,67.2L1278.6,66.8L1281.3,66.5L1284,66.2L1286.8,66L1289.5,65.9L1292.3,65.8" stroke="#cc0033"/>
<path d="M801.5,95L804.3,95L807,95L809.8,94.9L812.5,94.7L815.2,94.7L817.9,94.6L820.6,94.7L823.3,94.8L825.9,95.2L828.6,95.7L831.2,96.4L833.8,97.2L836.4,97.9L839,98.5L841.6,99L844.1,99.4L846.7,99.8L849.2,100.3L851.7,101L854.2,102L856.7,102.9L859.2,103.9L861.7,104.8L864.1,105.6L866.5,106.3L869,107L871.4,107.6L873.7,108.1L876.1,108.6L878.5,109.1L880.8,109.5L883.1,110L885.5,110.4L887.8,110.9L890,111.4L892.3,112L894.6,112.6L896.8,113.3L899,114.1L901.2,114.9L903.4,115.7L905.6,116.6L907.8,117.5L909.9,118.3L912.1,119.2L914.2,120.1L916.3,120.9L918.4,121.7L920.5,122.6L922.5,123.4L924.6,124.2L926.6,125L928.6,125.8L930.6,126.6L932.6,127.4L934.6,128.2L936.5,129L938.5,129.7L940.4,130.5L942.3,131.3L944.2,132L946.1,132.8L947.9,133.5L949.8,134.3L951.6,135L953.4,135.8L955.2,136.5L957,137.2L958.8,137.9L960.6,138.6L962.3,139.3L964,140L965.7,140.7L967.4,141.4L969.1,142.1L970.7,142.7L972.4,143.4L974,144L975.6,144.7L977.2,145.3L978.8,146L980.4,146.6L981.9,147.2L983.4,147.8L985,148.4L986.5,149L987.9,149.6L989.4,150.1L990.9,150.7L992.3,151.2L993.7,151.8L995.1,152.3L996.5,152.8L997.9,153.4L999.2,153.9L1000.5,154.3L1001.9,154.8L1003.2,155.3L1004.4,155.7L1005.7,156.2L1006.9,156.6L1008.2,157L1009.4,157.4L1010.6,157.8L1011.8,158.2L1012.9,158.6L1014.1,159L1015.2,159.3L1016.3,159.6L1017.4,159.9L1018.5,160.2L1019.5,160.5L1020.6,160.8L1021.6,161.1L1022.6,161.3L1023.6,161.6L1024.6,161.8L1025.5,162L1026.4,162.2L1027.3,162.3L1028.2,162.5L1029.1,162.6L1030,162.8L1030.8,162.9L1031.6,163L1032.4,163.1L1033.2,163.1L1034,163.2L1034.7,163.3L1035.4,163.3L1036.1,163.3L1036.8,163.3L1037.5,163.3L1038.1,163.3L1038.7,163.3L1039.3,163.3L1039.9,163.2L1040.5,163.2L1041,163.2L1041.5,163.1L1042,163.1L1042.5,163L1043,162.9L1043.4,162.9L1043.8,162.8L1044.2,162.8L1044.6,162.7L1044.9,162.7L1045.2,162.7L1045.5,162.6L1045.8,162.6L1046,162.6L1046.2,162.6L1046.4,162.6L1046.6,162.6L1046.7,162.5L1046.8,162.5L1046.9,162.5L1047,162.5L1047.1,162.5L1047.2,162.6L1047.4,162.6L1047.6,162.6L1047.8,162.6L1048,162.6L1048.3,162.6L1048.6,162.7L1048.9,162.7L1049.2,162.7L1049.6,162.8L1050,162.8L1050.4,162.9L1050.8,162.9L1051.3,163L1051.8,163.1L1052.3,163.1L1052.8,163.2L1053.3,163.2L1053.9,163.2L1054.5,163.3L1055.1,163.3L1055.7,163.3L1056.3,163.3L1057,163.3L1057.7,163.3L1058.4,163.3L1059.1,163.3L1059.8,163.2L1060.6,163.1L1061.4,163.1L1062.2,163L1063,162.9L1063.8,162.8L1064.7,162.6L1065.6,162.5L1066.5,162.3L1067.4,162.2L1068.3,162L1069.2,161.8L1070.2,161.6L1071.2,161.3L1072.2,161.1L1073.2,160.8L1074.3,160.5L1075.3,160.2L1076.4,159.9L1077.5,159.6L1078.6,159.3L1079.7,159L1080.9,158.6L1082,158.2L1083.2,157.8L1084.4,157.4L1085.6,157L1086.9,156.6L1088.1,156.2L1089.4,155.7L1090.6,155.3L1091.9,154.8L1093.3,154.3L1094.6,153.9L1095.9,153.4L1097.3,152.8L1098.7,152.3L1100.1,151.8L1101.5,151.2L1102.9,150.7L1104.4,150.1L1105.9,149.6L1107.3,149L1108.8,148.4L1110.4,147.8L1111.9,147.2L1113.4,146.6L1115,146L1116.6,145.3L1118.2,144.7L1119.8,144L1121.4,143.4L1123.1,142.7L1124.7,142.1L1126.4,141.4L1128.1,140.7L1129.8,140L1131.5,139.3L1133.2,138.6L1135,137.9L1136.8,137.2L1138.6,136.5L1140.4,135.8L1142.2,135L1144,134.3L1145.9,133.5L1147.7,132.8L1149.6,132L1151.5,131.3L1153.4,130.5L1155.3,129.7L1157.3,129L1159.2,128.2L1161.2,127.4L1163.2,126.6L1165.2,125.8L1167.2,125L1169.2,124.2L1171.3,123.4L1173.3,122.6L1175.4,121.7L1177.5,120.9L1179.6,120.1L1181.7,119.2L1183.9,118.3L1186,117.5L1188.2,116.6L1190.4,115.7L1192.6,114.9L1194.8,114.1L1197,113.3L1199.2,112.6L1201.5,112L1203.8,111.4L1206,110.9L1208.3,110.4L1210.7,110L1213,109.5L1215.3,109.1L1217.7,108.6L1220.1,108.1L1222.4,107.6L1224.8,107L1227.3,106.3L1229.7,105.6L1232.1,104.8L1234.6,103.9L1237.1,102.9L1239.6,102L1242.1,101L1244.6,100.3L1247.1,99.8L1249.7,99.4L1252.2,99L1254.8,98.5L1257.4,97.9L1260,97.2L1262.6,96.4L1265.2,95.7L1267.9,95.2L1270.5,94.8L1273.2,94.7L1275.9,94.6L1278.6,94.7L1281.3,94.7L1284,94.9L1286.8,95L1289.5,95L1292.3,95" stroke="#ff0000"/>
</g>
<rect x="783.75" y="4.30" width="526.15" height="415.20" fill="none" stroke="#686868" stroke-width="1.0"/>
<line x1="871.44" y1="419.50" x2="871.44" y2="413.70" stroke="#686868" stroke-width="1.0"/>
<line x1="871.44" y1="4.30" x2="871.44" y2="10.10" stroke="#686868" stroke-width="1.0"/>
<line x1="959.13" y1="419.50" x2="959.13" y2="413.70" stroke="#686868" stroke-width="1.0"/>
<line x1="959.13" y1="4.30" x2="959.13" y2="10.10" stroke="#686868" stroke-width="1.0"/>
<line x1="1046.83" y1="419.50" x2="1046.83" y2="413.70" stroke="#686868" stroke-width="1.0"/>
<line x1="1046.83" y1="4.30" x2="1046.83" y2="10.10" stroke="#686868" stroke-width="1.0"/>
<line x1="1134.52" y1="419.50" x2="1134.52" y2="413.70" stroke="#686868" stroke-width="1.0"/>
<line x1="1134.52" y1="4.30" x2="1134.52" y2="10.10" stroke="#686868" stroke-width="1.0"/>
<line x1="1222.21" y1="419.50" x2="1222.21" y2="413.70" stroke="#686868" stroke-width="1.0"/>
<line x1="1222.21" y1="4.30" x2="1222.21" y2="10.10" stroke="#686868" stroke-width="1.0"/>
<line x1="783.75" y1="20.30" x2="789.55" y2="20.30" stroke="#686868" stroke-width="1.0"/>
<line x1="1309.90" y1="20.30" x2="1304.10" y2="20.30" stroke="#686868" stroke-width="1.0"/>
<line x1="783.75" y1="100.14" x2="789.55" y2="100.14" stroke="#686868" stroke-width="1.0"/>
<line x1="1309.90" y1="100.14" x2="1304.10" y2="100.14" stroke="#686868" stroke-width="1.0"/>
<line x1="783.75" y1="179.98" x2="789.55" y2="179.98" stroke="#686868" stroke-width="1.0"/>
<line x1="1309.90" y1="179.98" x2="1304.10" y2="179.98" stroke="#686868" stroke-width="1.0"/>
<line x1="783.75" y1="259.82" x2="789.55" y2="259.82" stroke="#686868" stroke-width="1.0"/>
<line x1="1309.90" y1="259.82" x2="1304.10" y2="259.82" stroke="#686868" stroke-width="1.0"/>
<line x1="783.75" y1="339.66" x2="789.55" y2="339.66" stroke="#686868" stroke-width="1.0"/>
<line x1="1309.90" y1="339.66" x2="1304.10" y2="339.66" stroke="#686868" stroke-width="1.0"/>
<text x="783.75" y="451.60" text-anchor="middle" font-size="26.3" fill="#111111" stroke="#111111">-15</text>
<text x="871.44" y="451.60" text-anchor="middle" font-size="26.3" fill="#111111" stroke="#111111">-10</text>
<text x="959.13" y="451.60" text-anchor="middle" font-size="26.3" fill="#111111" stroke="#111111">-5</text>
<text x="1046.83" y="451.60" text-anchor="middle" font-size="26.3" fill="#111111" stroke="#111111">0</text>
<text x="1134.52" y="451.60" text-anchor="middle" font-size="26.3" fill="#111111" stroke="#111111">5</text>
<text x="1222.21" y="451.60" text-anchor="middle" font-size="26.3" fill="#111111" stroke="#111111">10</text>
<text x="1309.90" y="451.60" text-anchor="middle" font-size="26.3" fill="#111111" stroke="#111111">15</text>
<text x="775.70" y="29.70" text-anchor="end" font-size="26.3" fill="#111111" stroke="#111111">0.1</text>
<text x="775.70" y="109.54" text-anchor="end" font-size="26.3" fill="#111111" stroke="#111111">0.05</text>
<text x="775.70" y="189.38" text-anchor="end" font-size="26.3" fill="#111111" stroke="#111111">0</text>
<text x="775.70" y="269.22" text-anchor="end" font-size="26.3" fill="#111111" stroke="#111111">-0.05</text>
<text x="775.70" y="349.06" text-anchor="end" font-size="26.3" fill="#111111" stroke="#111111">-0.1</text>
<text x="775.70" y="428.90" text-anchor="end" font-size="26.3" fill="#111111" stroke="#111111">-0.15</text>
<text fill="#111111" stroke="#111111"><tspan x="1003.65" y="484.90" font-size="28.50" textLength="14.20" lengthAdjust="spacingAndGlyphs" class="m">μ</tspan><tspan x="1020.22" y="499.20" font-size="22.40" textLength="11.47" lengthAdjust="spacingAndGlyphs">0</tspan><tspan x="1032.03" y="484.90" font-size="28.40" textLength="19.74" lengthAdjust="spacingAndGlyphs" class="i">H</tspan> <tspan x="1060.03" y="484.90" font-size="28.40" textLength="7.57" lengthAdjust="spacingAndGlyphs">(</tspan><tspan x="1067.74" y="484.90" font-size="28.40">T</tspan><tspan x="1083.62" y="484.90" font-size="28.40" textLength="7.57" lengthAdjust="spacingAndGlyphs">)</tspan></text>
<text transform="rotate(-90)" fill="#111111" stroke="#111111"><tspan x="-356.37" y="692.60" font-size="28.40" textLength="16.93" lengthAdjust="spacingAndGlyphs">d</tspan><tspan x="-337.56" y="692.60" font-size="28.50" textLength="13.24" lengthAdjust="spacingAndGlyphs" class="m">ρ</tspan><tspan x="-324.39" y="706.80" font-size="22.40" textLength="11.38" lengthAdjust="spacingAndGlyphs">x</tspan><tspan x="-311.74" y="706.80" font-size="22.40" textLength="9.18" lengthAdjust="spacingAndGlyphs">y</tspan><tspan x="-300.95" y="692.60" font-size="28.40" textLength="8.69" lengthAdjust="spacingAndGlyphs" style="stroke-width:0.0px">/</tspan><tspan x="-291.47" y="692.60" font-size="28.40" textLength="16.93" lengthAdjust="spacingAndGlyphs">d</tspan><tspan x="-274.05" y="692.60" font-size="28.50" textLength="15.91" lengthAdjust="spacingAndGlyphs" class="m">μ</tspan><tspan x="-258.46" y="706.80" font-size="22.40" textLength="12.65" lengthAdjust="spacingAndGlyphs">0</tspan><tspan x="-245.25" y="692.60" font-size="28.40" textLength="19.33" lengthAdjust="spacingAndGlyphs" class="i">H</tspan> <tspan x="-216.88" y="692.60" font-size="28.40" textLength="9.05" lengthAdjust="spacingAndGlyphs">(</tspan><tspan x="-207.25" y="692.60" font-size="28.50" textLength="16.23" lengthAdjust="spacingAndGlyphs" class="m">μ</tspan><tspan x="-191.26" y="692.60" font-size="29.00" textLength="21.02" lengthAdjust="spacingAndGlyphs" class="r">Ω</tspan><tspan x="-170.34" y="692.60" font-size="28.40" textLength="9.52" lengthAdjust="spacingAndGlyphs">-</tspan><tspan x="-161.12" y="692.60" font-size="28.40" textLength="15.23" lengthAdjust="spacingAndGlyphs">c</tspan><tspan x="-145.78" y="692.60" font-size="28.40" textLength="24.75" lengthAdjust="spacingAndGlyphs">m</tspan> <tspan x="-113.14" y="692.60" font-size="28.40" textLength="16.76" lengthAdjust="spacingAndGlyphs">T</tspan><tspan x="-96.00" y="678.70" font-size="22.40" textLength="7.75" lengthAdjust="spacingAndGlyphs">-</tspan><tspan x="-88.60" y="678.70" font-size="22.40">1</tspan><tspan x="-75.38" y="692.60" font-size="28.40" textLength="7.69" lengthAdjust="spacingAndGlyphs">)</tspan></text>
<text fill="#000" stroke="#000" style="stroke-width:0.8px"><tspan x="668.61" y="43.65" font-size="39.04" textLength="9.68" lengthAdjust="spacingAndGlyphs">(</tspan><tspan x="682.15" y="44.55" font-size="39.59" textLength="20.52" lengthAdjust="spacingAndGlyphs">b</tspan><tspan x="705.14" y="43.65" font-size="39.04" textLength="10.38" lengthAdjust="spacingAndGlyphs">)</tspan></text>
<rect x="794.9" y="204.2" width="113.90" height="201.00" fill="#fff" stroke="#686868" stroke-width="1.0"/>
<circle cx="819.5" cy="222.80" r="5.5" fill="#0000ff"/>
<text x="842.00" y="232.30" font-size="26.3" fill="#000" stroke="#000">2K</text>
<circle cx="819.5" cy="255.60" r="5.5" fill="#3300cc"/>
<text x="842.00" y="265.10" font-size="26.3" fill="#000" stroke="#000">25K</text>
<circle cx="819.5" cy="288.40" r="5.5" fill="#660099"/>
<text x="842.00" y="297.90" font-size="26.3" fill="#000" stroke="#000">80K</text>
<circle cx="819.5" cy="321.20" r="5.5" fill="#990066"/>
<text x="842.00" y="330.70" font-size="26.3" fill="#000" stroke="#000">120K</text>
<circle cx="819.5" cy="354.00" r="5.5" fill="#cc0033"/>
<text x="842.00" y="363.50" font-size="26.3" fill="#000" stroke="#000">150K</text>
<circle cx="819.5" cy="386.80" r="5.5" fill="#ff0000"/>
<text x="842.00" y="396.30" font-size="26.3" fill="#000" stroke="#000">180K</text>
<path d="M1425.9,358.6L1428.1,359.4L1432.5,358.9L1436.9,359.4L1441.3,358.9L1445.7,358.6L1450.2,357.0L1459.0,357.3L1463.4,356.1L1467.8,356.8L1476.6,356.5L1487.6,357.2L1498.6,356.5L1509.7,357.0L1531.7,355.7L1553.7,352.7L1575.8,346.8L1597.8,340.0L1608.8,336.7L1619.9,334.4L1630.9,371.7L1641.9,373.1L1652.9,365.7L1664.0,356.2L1686.0,334.8L1752.1,252.9L1818.2,162.2L1884.4,61.8" fill="none" stroke="#3f93c8" stroke-width="1.1"/>
<path d="M1425.9,373.1L1428.1,373.4L1432.5,374.0L1436.9,374.4L1441.3,374.4L1445.7,374.2L1450.2,374.0L1463.4,373.4L1467.8,372.6L1476.6,372.3L1487.6,372.6L1498.6,372.8L1509.7,373.4L1531.7,373.6L1553.7,372.6L1575.8,370.6L1597.8,368.7L1608.8,367.4L1619.9,366.8L1630.9,388.4L1641.9,394.5L1652.9,387.8L1664.0,379.7L1686.0,362.8L1752.1,301.2L1818.2,215.6L1884.4,92.9" fill="none" stroke="#e0794b" stroke-width="1.1"/>
<g fill="#0000ff"><circle cx="1425.9" cy="358.6" r="3.45"/><circle cx="1428.1" cy="359.4" r="3.45"/><circle cx="1432.5" cy="358.9" r="3.45"/><circle cx="1436.9" cy="359.4" r="3.45"/><circle cx="1441.3" cy="358.9" r="3.45"/><circle cx="1445.7" cy="358.6" r="3.45"/><circle cx="1450.2" cy="357.0" r="3.45"/><circle cx="1459.0" cy="357.3" r="3.45"/><circle cx="1463.4" cy="356.1" r="3.45"/><circle cx="1467.8" cy="356.8" r="3.45"/><circle cx="1476.6" cy="356.5" r="3.45"/><circle cx="1487.6" cy="357.2" r="3.45"/><circle cx="1498.6" cy="356.5" r="3.45"/><circle cx="1509.7" cy="357.0" r="3.45"/><circle cx="1531.7" cy="355.7" r="3.45"/><circle cx="1553.7" cy="352.7" r="3.45"/><circle cx="1575.8" cy="346.8" r="3.45"/><circle cx="1597.8" cy="340.0" r="3.45"/><circle cx="1608.8" cy="336.7" r="3.45"/><circle cx="1619.9" cy="334.4" r="3.45"/><circle cx="1630.9" cy="371.7" r="3.45"/><circle cx="1641.9" cy="373.1" r="3.45"/><circle cx="1652.9" cy="365.7" r="3.45"/><circle cx="1664.0" cy="356.2" r="3.45"/><circle cx="1686.0" cy="334.8" r="3.45"/><circle cx="1752.1" cy="252.9" r="3.45"/><circle cx="1818.2" cy="162.2" r="3.45"/><circle cx="1884.4" cy="61.8" r="3.45"/></g>
<g fill="#ff0000"><circle cx="1425.9" cy="373.1" r="3.45"/><circle cx="1428.1" cy="373.4" r="3.45"/><circle cx="1432.5" cy="374.0" r="3.45"/><circle cx="1436.9" cy="374.4" r="3.45"/><circle cx="1441.3" cy="374.4" r="3.45"/><circle cx="1445.7" cy="374.2" r="3.45"/><circle cx="1450.2" cy="374.0" r="3.45"/><circle cx="1463.4" cy="373.4" r="3.45"/><circle cx="1467.8" cy="372.6" r="3.45"/><circle cx="1476.6" cy="372.3" r="3.45"/><circle cx="1487.6" cy="372.6" r="3.45"/><circle cx="1498.6" cy="372.8" r="3.45"/><circle cx="1509.7" cy="373.4" r="3.45"/><circle cx="1531.7" cy="373.6" r="3.45"/><circle cx="1553.7" cy="372.6" r="3.45"/><circle cx="1575.8" cy="370.6" r="3.45"/><circle cx="1597.8" cy="368.7" r="3.45"/><circle cx="1608.8" cy="367.4" r="3.45"/><circle cx="1619.9" cy="366.8" r="3.45"/><circle cx="1630.9" cy="388.4" r="3.45"/><circle cx="1641.9" cy="394.5" r="3.45"/><circle cx="1652.9" cy="387.8" r="3.45"/><circle cx="1664.0" cy="379.7" r="3.45"/><circle cx="1686.0" cy="362.8" r="3.45"/><circle cx="1752.1" cy="301.2" r="3.45"/><circle cx="1818.2" cy="215.6" r="3.45"/><circle cx="1884.4" cy="92.9" r="3.45"/></g>
<line x1="1619.87" y1="36.5" x2="1619.87" y2="437.0" stroke="#555555" stroke-width="1.0" stroke-opacity="0.7"/>
<line x1="1421.50" y1="36.50" x2="1906.40" y2="36.50" stroke="#808080" stroke-width="1.0"/>
<line x1="1421.50" y1="437.00" x2="1906.40" y2="437.00" stroke="#808080" stroke-width="1.0"/>
<line x1="1421.50" y1="36.50" x2="1421.50" y2="437.00" stroke="#7070e8" stroke-width="1.0"/>
<line x1="1906.40" y1="36.50" x2="1906.40" y2="437.00" stroke="#f07878" stroke-width="1.0"/>
<line x1="1531.70" y1="437.00" x2="1531.70" y2="431.20" stroke="#808080" stroke-width="1.0"/>
<line x1="1531.70" y1="36.50" x2="1531.70" y2="42.30" stroke="#808080" stroke-width="1.0"/>
<line x1="1641.91" y1="437.00" x2="1641.91" y2="431.20" stroke="#808080" stroke-width="1.0"/>
<line x1="1641.91" y1="36.50" x2="1641.91" y2="42.30" stroke="#808080" stroke-width="1.0"/>
<line x1="1752.11" y1="437.00" x2="1752.11" y2="431.20" stroke="#808080" stroke-width="1.0"/>
<line x1="1752.11" y1="36.50" x2="1752.11" y2="42.30" stroke="#808080" stroke-width="1.0"/>
<line x1="1862.32" y1="437.00" x2="1862.32" y2="431.20" stroke="#808080" stroke-width="1.0"/>
<line x1="1862.32" y1="36.50" x2="1862.32" y2="42.30" stroke="#808080" stroke-width="1.0"/>
<text x="1421.50" y="467.90" text-anchor="middle" font-size="24.6" fill="#111111" stroke="#111111">0</text>
<text x="1531.70" y="467.90" text-anchor="middle" font-size="24.6" fill="#111111" stroke="#111111">50</text>
<text x="1641.91" y="467.90" text-anchor="middle" font-size="24.6" fill="#111111" stroke="#111111">100</text>
<text x="1752.11" y="467.90" text-anchor="middle" font-size="24.6" fill="#111111" stroke="#111111">150</text>
<text x="1862.32" y="467.90" text-anchor="middle" font-size="24.6" fill="#111111" stroke="#111111">200</text>
<line x1="1421.50" y1="437.00" x2="1427.30" y2="437.00" stroke="#7070e8" stroke-width="1.0"/>
<text x="1414.20" y="446.00" text-anchor="end" font-size="24.6" fill="#0000ff" stroke="#0000ff">0.5</text>
<line x1="1421.50" y1="336.88" x2="1427.30" y2="336.88" stroke="#7070e8" stroke-width="1.0"/>
<text x="1414.20" y="345.88" text-anchor="end" font-size="24.6" fill="#0000ff" stroke="#0000ff">1</text>
<line x1="1421.50" y1="236.75" x2="1427.30" y2="236.75" stroke="#7070e8" stroke-width="1.0"/>
<text x="1414.20" y="245.75" text-anchor="end" font-size="24.6" fill="#0000ff" stroke="#0000ff">1.5</text>
<line x1="1421.50" y1="136.62" x2="1427.30" y2="136.62" stroke="#7070e8" stroke-width="1.0"/>
<text x="1414.20" y="145.62" text-anchor="end" font-size="24.6" fill="#0000ff" stroke="#0000ff">2</text>
<line x1="1421.50" y1="36.50" x2="1427.30" y2="36.50" stroke="#7070e8" stroke-width="1.0"/>
<text x="1414.20" y="45.50" text-anchor="end" font-size="24.6" fill="#0000ff" stroke="#0000ff">2.5</text>
<line x1="1906.40" y1="437.00" x2="1900.60" y2="437.00" stroke="#f07878" stroke-width="1.0"/>
<text x="1913.20" y="446.00" font-size="24.6" fill="#ff0000" stroke="#ff0000">0.4</text>
<line x1="1906.40" y1="379.79" x2="1900.60" y2="379.79" stroke="#f07878" stroke-width="1.0"/>
<text x="1913.20" y="388.79" font-size="24.6" fill="#ff0000" stroke="#ff0000">0.6</text>
<line x1="1906.40" y1="322.57" x2="1900.60" y2="322.57" stroke="#f07878" stroke-width="1.0"/>
<text x="1913.20" y="331.57" font-size="24.6" fill="#ff0000" stroke="#ff0000">0.8</text>
<line x1="1906.40" y1="265.36" x2="1900.60" y2="265.36" stroke="#f07878" stroke-width="1.0"/>
<text x="1913.20" y="274.36" font-size="24.6" fill="#ff0000" stroke="#ff0000">1</text>
<line x1="1906.40" y1="208.14" x2="1900.60" y2="208.14" stroke="#f07878" stroke-width="1.0"/>
<text x="1913.20" y="217.14" font-size="24.6" fill="#ff0000" stroke="#ff0000">1.2</text>
<line x1="1906.40" y1="150.93" x2="1900.60" y2="150.93" stroke="#f07878" stroke-width="1.0"/>
<text x="1913.20" y="159.93" font-size="24.6" fill="#ff0000" stroke="#ff0000">1.4</text>
<line x1="1906.40" y1="93.71" x2="1900.60" y2="93.71" stroke="#f07878" stroke-width="1.0"/>
<text x="1913.20" y="102.71" font-size="24.6" fill="#ff0000" stroke="#ff0000">1.6</text>
<line x1="1906.40" y1="36.50" x2="1900.60" y2="36.50" stroke="#f07878" stroke-width="1.0"/>
<text x="1913.20" y="45.50" font-size="24.6" fill="#ff0000" stroke="#ff0000">1.8</text>
<text fill="#0000ff" stroke="#0000ff"><tspan x="1422.14" y="35.37" font-size="29.38" textLength="16.99" lengthAdjust="spacingAndGlyphs" style="stroke-width:0.0px" class="r">×</tspan><tspan x="1440.09" y="31.70" font-size="24.60" textLength="26.14" lengthAdjust="spacingAndGlyphs">10</tspan><tspan x="1466.89" y="19.00" font-size="19.00" textLength="21.26" lengthAdjust="spacingAndGlyphs">22</tspan></text>
<text fill="#ff0000" stroke="#ff0000"><tspan x="1907.42" y="31.17" font-size="29.38" textLength="16.43" lengthAdjust="spacingAndGlyphs" style="stroke-width:0.0px" class="r">×</tspan><tspan x="1925.55" y="27.50" font-size="24.60" textLength="26.70" lengthAdjust="spacingAndGlyphs">10</tspan><tspan x="1952.41" y="15.30" font-size="19.00" textLength="20.82" lengthAdjust="spacingAndGlyphs">22</tspan></text>
<text fill="#111111" stroke="#111111"><tspan x="1636.11" y="499.60" font-size="28.40" textLength="15.90" lengthAdjust="spacingAndGlyphs" class="i">T</tspan> <tspan x="1659.48" y="499.60" font-size="28.40" textLength="7.57" lengthAdjust="spacingAndGlyphs">(</tspan><tspan x="1665.50" y="499.60" font-size="28.40" textLength="19.60" lengthAdjust="spacingAndGlyphs">K</tspan><tspan x="1684.22" y="499.60" font-size="28.40" textLength="7.57" lengthAdjust="spacingAndGlyphs">)</tspan></text>
<text transform="rotate(-90)" fill="#0000ff" stroke="#0000ff"><tspan x="-308.18" y="1359.00" font-size="28.40" textLength="14.87" lengthAdjust="spacingAndGlyphs" class="i">n</tspan><tspan x="-293.25" y="1373.00" font-size="22.40" textLength="11.92" lengthAdjust="spacingAndGlyphs">h</tspan><tspan x="-281.05" y="1359.00" font-size="28.40" textLength="10.33" lengthAdjust="spacingAndGlyphs">-</tspan><tspan x="-271.52" y="1359.00" font-size="28.40" textLength="15.89" lengthAdjust="spacingAndGlyphs" class="i">n</tspan><tspan x="-256.40" y="1373.00" font-size="22.40" textLength="12.92" lengthAdjust="spacingAndGlyphs">e</tspan> <tspan x="-236.76" y="1359.00" font-size="28.40" textLength="8.92" lengthAdjust="spacingAndGlyphs">(</tspan><tspan x="-228.15" y="1359.00" font-size="28.40" textLength="12.21" lengthAdjust="spacingAndGlyphs">c</tspan><tspan x="-216.30" y="1359.00" font-size="28.40">m</tspan><tspan x="-193.16" y="1346.30" font-size="22.40" textLength="8.97" lengthAdjust="spacingAndGlyphs">-</tspan><tspan x="-184.92" y="1346.30" font-size="22.40" textLength="12.07" lengthAdjust="spacingAndGlyphs">3</tspan><tspan x="-173.58" y="1359.00" font-size="28.40" textLength="7.69" lengthAdjust="spacingAndGlyphs">)</tspan></text>
<text transform="rotate(-90)" fill="#ff0000" stroke="#ff0000"><tspan x="-290.01" y="1984.30" font-size="28.40" textLength="15.44" lengthAdjust="spacingAndGlyphs" class="i">n</tspan><tspan x="-275.33" y="1997.80" font-size="22.40" textLength="12.58" lengthAdjust="spacingAndGlyphs">h</tspan> <tspan x="-255.92" y="1984.30" font-size="28.40" textLength="8.17" lengthAdjust="spacingAndGlyphs">(</tspan><tspan x="-248.04" y="1984.30" font-size="28.40" textLength="13.26" lengthAdjust="spacingAndGlyphs">c</tspan><tspan x="-235.23" y="1984.30" font-size="28.40" textLength="24.04" lengthAdjust="spacingAndGlyphs">m</tspan><tspan x="-211.55" y="1971.70" font-size="22.40" textLength="8.16" lengthAdjust="spacingAndGlyphs">-</tspan><tspan x="-203.08" y="1971.70" font-size="22.40" textLength="11.60" lengthAdjust="spacingAndGlyphs">3</tspan><tspan x="-191.88" y="1984.30" font-size="28.40" textLength="7.57" lengthAdjust="spacingAndGlyphs">)</tspan></text>
<text transform="rotate(-90)" fill="#111111" stroke="#111111"><tspan x="-102.68" y="1645.70" font-size="25.00" textLength="14.43" lengthAdjust="spacingAndGlyphs" class="i">T</tspan><tspan x="-88.29" y="1658.00" font-size="20.00" textLength="45.10" lengthAdjust="spacingAndGlyphs">CDW</tspan></text>
<text fill="#000" stroke="#000" style="stroke-width:0.8px"><tspan x="1325.94" y="43.65" font-size="39.04" textLength="10.05" lengthAdjust="spacingAndGlyphs">(</tspan><tspan x="1338.45" y="44.58" font-size="37.09" textLength="17.79" lengthAdjust="spacingAndGlyphs">c</tspan><tspan x="1358.44" y="43.65" font-size="39.04" textLength="10.25" lengthAdjust="spacingAndGlyphs">)</tspan></text>
</svg>
</body></html>
